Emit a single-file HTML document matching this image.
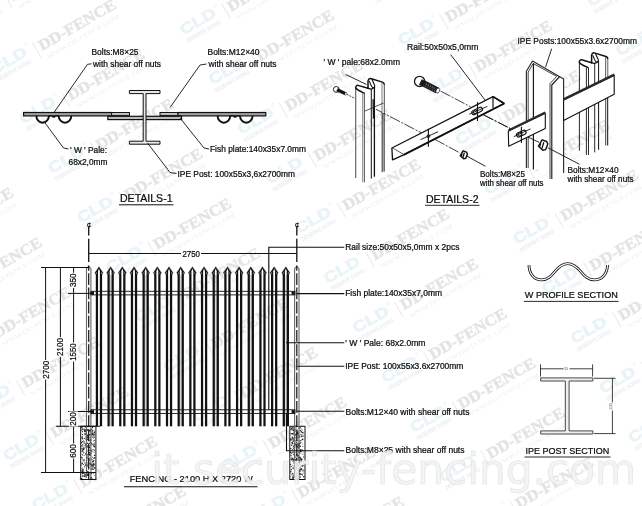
<!DOCTYPE html>
<html lang="en"><head><meta charset="utf-8"><title>Palisade fence drawing</title>
<style>
html,body{margin:0;padding:0;background:#fff;}
body{width:642px;height:506px;overflow:hidden;position:relative;font-family:"Liberation Sans",sans-serif;}
svg{position:absolute;left:0;top:0;display:block;opacity:.999;will-change:transform;}
.t{font-family:"Liberation Sans",sans-serif;fill:#0c0c0c;stroke:#0c0c0c;stroke-width:.22;}
.wm1{font-family:"Liberation Serif",serif;font-weight:bold;fill:#e3e3e3;stroke:#e6e6e6;stroke-width:.5;}
.wm2{font-family:"Liberation Serif",serif;fill:#eeeeee;}
.wm3{font-family:"Liberation Sans",sans-serif;font-weight:bold;fill:#ebebeb;}
.wm4{font-family:"Liberation Sans",sans-serif;font-weight:bold;fill:#e9f4f7;stroke:#e9f4f7;stroke-width:.6;}
.big{font-family:"DejaVu Sans","Liberation Sans",sans-serif;fill:#f3f3f3;fill-opacity:.9;stroke:#e0e0e0;stroke-width:.7;stroke-opacity:.8;}
</style></head><body>
<svg width="642" height="506" viewBox="0 0 642 506">
<rect x="0" y="0" width="642" height="506" fill="#fff"/>

<g id="watermarks">
<g transform="translate(-82.5 575.5) rotate(-30)"><text class="wm4" x="-49" y="0" font-size="15" textLength="39" lengthAdjust="spacingAndGlyphs">CLD</text><text class="wm3" x="-49" y="8.5" font-size="6" textLength="39" lengthAdjust="spacingAndGlyphs">DESERVE DOING</text><text class="wm2" x="-9" y="-8.5" font-size="5.5">®</text><line x1="0" y1="-8.5" x2="0" y2="8.5" stroke="#e9e9e9" stroke-width="1"/><text class="wm1" x="4" y="3.5" font-size="15.5" textLength="87" lengthAdjust="spacingAndGlyphs">DD-FENCE</text><text class="wm2" x="6" y="13.5" font-size="5.8" textLength="82" lengthAdjust="spacingAndGlyphs">WWW.DD-FENCE.COM</text></g>
<g transform="translate(-94.9 188.5) rotate(-30)"><text class="wm4" x="-49" y="0" font-size="15" textLength="39" lengthAdjust="spacingAndGlyphs">CLD</text><text class="wm3" x="-49" y="8.5" font-size="6" textLength="39" lengthAdjust="spacingAndGlyphs">DESERVE DOING</text><text class="wm2" x="-9" y="-8.5" font-size="5.5">®</text><line x1="0" y1="-8.5" x2="0" y2="8.5" stroke="#e9e9e9" stroke-width="1"/><text class="wm1" x="4" y="3.5" font-size="15.5" textLength="87" lengthAdjust="spacingAndGlyphs">DD-FENCE</text><text class="wm2" x="6" y="13.5" font-size="5.8" textLength="82" lengthAdjust="spacingAndGlyphs">WWW.DD-FENCE.COM</text></g>
<g transform="translate(-66.1 238.2) rotate(-30)"><text class="wm4" x="-49" y="0" font-size="15" textLength="39" lengthAdjust="spacingAndGlyphs">CLD</text><text class="wm3" x="-49" y="8.5" font-size="6" textLength="39" lengthAdjust="spacingAndGlyphs">DESERVE DOING</text><text class="wm2" x="-9" y="-8.5" font-size="5.5">®</text><line x1="0" y1="-8.5" x2="0" y2="8.5" stroke="#e9e9e9" stroke-width="1"/><text class="wm1" x="4" y="3.5" font-size="15.5" textLength="87" lengthAdjust="spacingAndGlyphs">DD-FENCE</text><text class="wm2" x="6" y="13.5" font-size="5.8" textLength="82" lengthAdjust="spacingAndGlyphs">WWW.DD-FENCE.COM</text></g>
<g transform="translate(-37.3 287.9) rotate(-30)"><text class="wm4" x="-49" y="0" font-size="15" textLength="39" lengthAdjust="spacingAndGlyphs">CLD</text><text class="wm3" x="-49" y="8.5" font-size="6" textLength="39" lengthAdjust="spacingAndGlyphs">DESERVE DOING</text><text class="wm2" x="-9" y="-8.5" font-size="5.5">®</text><line x1="0" y1="-8.5" x2="0" y2="8.5" stroke="#e9e9e9" stroke-width="1"/><text class="wm1" x="4" y="3.5" font-size="15.5" textLength="87" lengthAdjust="spacingAndGlyphs">DD-FENCE</text><text class="wm2" x="6" y="13.5" font-size="5.8" textLength="82" lengthAdjust="spacingAndGlyphs">WWW.DD-FENCE.COM</text></g>
<g transform="translate(-8.5 337.6) rotate(-30)"><text class="wm4" x="-49" y="0" font-size="15" textLength="39" lengthAdjust="spacingAndGlyphs">CLD</text><text class="wm3" x="-49" y="8.5" font-size="6" textLength="39" lengthAdjust="spacingAndGlyphs">DESERVE DOING</text><text class="wm2" x="-9" y="-8.5" font-size="5.5">®</text><line x1="0" y1="-8.5" x2="0" y2="8.5" stroke="#e9e9e9" stroke-width="1"/><text class="wm1" x="4" y="3.5" font-size="15.5" textLength="87" lengthAdjust="spacingAndGlyphs">DD-FENCE</text><text class="wm2" x="6" y="13.5" font-size="5.8" textLength="82" lengthAdjust="spacingAndGlyphs">WWW.DD-FENCE.COM</text></g>
<g transform="translate(20.3 387.3) rotate(-30)"><text class="wm4" x="-49" y="0" font-size="15" textLength="39" lengthAdjust="spacingAndGlyphs">CLD</text><text class="wm3" x="-49" y="8.5" font-size="6" textLength="39" lengthAdjust="spacingAndGlyphs">DESERVE DOING</text><text class="wm2" x="-9" y="-8.5" font-size="5.5">®</text><line x1="0" y1="-8.5" x2="0" y2="8.5" stroke="#e9e9e9" stroke-width="1"/><text class="wm1" x="4" y="3.5" font-size="15.5" textLength="87" lengthAdjust="spacingAndGlyphs">DD-FENCE</text><text class="wm2" x="6" y="13.5" font-size="5.8" textLength="82" lengthAdjust="spacingAndGlyphs">WWW.DD-FENCE.COM</text></g>
<g transform="translate(49.1 437.0) rotate(-30)"><text class="wm4" x="-49" y="0" font-size="15" textLength="39" lengthAdjust="spacingAndGlyphs">CLD</text><text class="wm3" x="-49" y="8.5" font-size="6" textLength="39" lengthAdjust="spacingAndGlyphs">DESERVE DOING</text><text class="wm2" x="-9" y="-8.5" font-size="5.5">®</text><line x1="0" y1="-8.5" x2="0" y2="8.5" stroke="#e9e9e9" stroke-width="1"/><text class="wm1" x="4" y="3.5" font-size="15.5" textLength="87" lengthAdjust="spacingAndGlyphs">DD-FENCE</text><text class="wm2" x="6" y="13.5" font-size="5.8" textLength="82" lengthAdjust="spacingAndGlyphs">WWW.DD-FENCE.COM</text></g>
<g transform="translate(77.9 486.7) rotate(-30)"><text class="wm4" x="-49" y="0" font-size="15" textLength="39" lengthAdjust="spacingAndGlyphs">CLD</text><text class="wm3" x="-49" y="8.5" font-size="6" textLength="39" lengthAdjust="spacingAndGlyphs">DESERVE DOING</text><text class="wm2" x="-9" y="-8.5" font-size="5.5">®</text><line x1="0" y1="-8.5" x2="0" y2="8.5" stroke="#e9e9e9" stroke-width="1"/><text class="wm1" x="4" y="3.5" font-size="15.5" textLength="87" lengthAdjust="spacingAndGlyphs">DD-FENCE</text><text class="wm2" x="6" y="13.5" font-size="5.8" textLength="82" lengthAdjust="spacingAndGlyphs">WWW.DD-FENCE.COM</text></g>
<g transform="translate(106.7 536.4) rotate(-30)"><text class="wm4" x="-49" y="0" font-size="15" textLength="39" lengthAdjust="spacingAndGlyphs">CLD</text><text class="wm3" x="-49" y="8.5" font-size="6" textLength="39" lengthAdjust="spacingAndGlyphs">DESERVE DOING</text><text class="wm2" x="-9" y="-8.5" font-size="5.5">®</text><line x1="0" y1="-8.5" x2="0" y2="8.5" stroke="#e9e9e9" stroke-width="1"/><text class="wm1" x="4" y="3.5" font-size="15.5" textLength="87" lengthAdjust="spacingAndGlyphs">DD-FENCE</text><text class="wm2" x="6" y="13.5" font-size="5.8" textLength="82" lengthAdjust="spacingAndGlyphs">WWW.DD-FENCE.COM</text></g>
<g transform="translate(-20.9 -49.4) rotate(-30)"><text class="wm4" x="-49" y="0" font-size="15" textLength="39" lengthAdjust="spacingAndGlyphs">CLD</text><text class="wm3" x="-49" y="8.5" font-size="6" textLength="39" lengthAdjust="spacingAndGlyphs">DESERVE DOING</text><text class="wm2" x="-9" y="-8.5" font-size="5.5">®</text><line x1="0" y1="-8.5" x2="0" y2="8.5" stroke="#e9e9e9" stroke-width="1"/><text class="wm1" x="4" y="3.5" font-size="15.5" textLength="87" lengthAdjust="spacingAndGlyphs">DD-FENCE</text><text class="wm2" x="6" y="13.5" font-size="5.8" textLength="82" lengthAdjust="spacingAndGlyphs">WWW.DD-FENCE.COM</text></g>
<g transform="translate(7.9 0.3) rotate(-30)"><text class="wm4" x="-49" y="0" font-size="15" textLength="39" lengthAdjust="spacingAndGlyphs">CLD</text><text class="wm3" x="-49" y="8.5" font-size="6" textLength="39" lengthAdjust="spacingAndGlyphs">DESERVE DOING</text><text class="wm2" x="-9" y="-8.5" font-size="5.5">®</text><line x1="0" y1="-8.5" x2="0" y2="8.5" stroke="#e9e9e9" stroke-width="1"/><text class="wm1" x="4" y="3.5" font-size="15.5" textLength="87" lengthAdjust="spacingAndGlyphs">DD-FENCE</text><text class="wm2" x="6" y="13.5" font-size="5.8" textLength="82" lengthAdjust="spacingAndGlyphs">WWW.DD-FENCE.COM</text></g>
<g transform="translate(36.7 50.0) rotate(-30)"><text class="wm4" x="-49" y="0" font-size="15" textLength="39" lengthAdjust="spacingAndGlyphs">CLD</text><text class="wm3" x="-49" y="8.5" font-size="6" textLength="39" lengthAdjust="spacingAndGlyphs">DESERVE DOING</text><text class="wm2" x="-9" y="-8.5" font-size="5.5">®</text><line x1="0" y1="-8.5" x2="0" y2="8.5" stroke="#e9e9e9" stroke-width="1"/><text class="wm1" x="4" y="3.5" font-size="15.5" textLength="87" lengthAdjust="spacingAndGlyphs">DD-FENCE</text><text class="wm2" x="6" y="13.5" font-size="5.8" textLength="82" lengthAdjust="spacingAndGlyphs">WWW.DD-FENCE.COM</text></g>
<g transform="translate(65.5 99.7) rotate(-30)"><text class="wm4" x="-49" y="0" font-size="15" textLength="39" lengthAdjust="spacingAndGlyphs">CLD</text><text class="wm3" x="-49" y="8.5" font-size="6" textLength="39" lengthAdjust="spacingAndGlyphs">DESERVE DOING</text><text class="wm2" x="-9" y="-8.5" font-size="5.5">®</text><line x1="0" y1="-8.5" x2="0" y2="8.5" stroke="#e9e9e9" stroke-width="1"/><text class="wm1" x="4" y="3.5" font-size="15.5" textLength="87" lengthAdjust="spacingAndGlyphs">DD-FENCE</text><text class="wm2" x="6" y="13.5" font-size="5.8" textLength="82" lengthAdjust="spacingAndGlyphs">WWW.DD-FENCE.COM</text></g>
<g transform="translate(94.3 149.4) rotate(-30)"><text class="wm4" x="-49" y="0" font-size="15" textLength="39" lengthAdjust="spacingAndGlyphs">CLD</text><text class="wm3" x="-49" y="8.5" font-size="6" textLength="39" lengthAdjust="spacingAndGlyphs">DESERVE DOING</text><text class="wm2" x="-9" y="-8.5" font-size="5.5">®</text><line x1="0" y1="-8.5" x2="0" y2="8.5" stroke="#e9e9e9" stroke-width="1"/><text class="wm1" x="4" y="3.5" font-size="15.5" textLength="87" lengthAdjust="spacingAndGlyphs">DD-FENCE</text><text class="wm2" x="6" y="13.5" font-size="5.8" textLength="82" lengthAdjust="spacingAndGlyphs">WWW.DD-FENCE.COM</text></g>
<g transform="translate(123.1 199.1) rotate(-30)"><text class="wm4" x="-49" y="0" font-size="15" textLength="39" lengthAdjust="spacingAndGlyphs">CLD</text><text class="wm3" x="-49" y="8.5" font-size="6" textLength="39" lengthAdjust="spacingAndGlyphs">DESERVE DOING</text><text class="wm2" x="-9" y="-8.5" font-size="5.5">®</text><line x1="0" y1="-8.5" x2="0" y2="8.5" stroke="#e9e9e9" stroke-width="1"/><text class="wm1" x="4" y="3.5" font-size="15.5" textLength="87" lengthAdjust="spacingAndGlyphs">DD-FENCE</text><text class="wm2" x="6" y="13.5" font-size="5.8" textLength="82" lengthAdjust="spacingAndGlyphs">WWW.DD-FENCE.COM</text></g>
<g transform="translate(151.9 248.8) rotate(-30)"><text class="wm4" x="-49" y="0" font-size="15" textLength="39" lengthAdjust="spacingAndGlyphs">CLD</text><text class="wm3" x="-49" y="8.5" font-size="6" textLength="39" lengthAdjust="spacingAndGlyphs">DESERVE DOING</text><text class="wm2" x="-9" y="-8.5" font-size="5.5">®</text><line x1="0" y1="-8.5" x2="0" y2="8.5" stroke="#e9e9e9" stroke-width="1"/><text class="wm1" x="4" y="3.5" font-size="15.5" textLength="87" lengthAdjust="spacingAndGlyphs">DD-FENCE</text><text class="wm2" x="6" y="13.5" font-size="5.8" textLength="82" lengthAdjust="spacingAndGlyphs">WWW.DD-FENCE.COM</text></g>
<g transform="translate(180.7 298.5) rotate(-30)"><text class="wm4" x="-49" y="0" font-size="15" textLength="39" lengthAdjust="spacingAndGlyphs">CLD</text><text class="wm3" x="-49" y="8.5" font-size="6" textLength="39" lengthAdjust="spacingAndGlyphs">DESERVE DOING</text><text class="wm2" x="-9" y="-8.5" font-size="5.5">®</text><line x1="0" y1="-8.5" x2="0" y2="8.5" stroke="#e9e9e9" stroke-width="1"/><text class="wm1" x="4" y="3.5" font-size="15.5" textLength="87" lengthAdjust="spacingAndGlyphs">DD-FENCE</text><text class="wm2" x="6" y="13.5" font-size="5.8" textLength="82" lengthAdjust="spacingAndGlyphs">WWW.DD-FENCE.COM</text></g>
<g transform="translate(209.5 348.2) rotate(-30)"><text class="wm4" x="-49" y="0" font-size="15" textLength="39" lengthAdjust="spacingAndGlyphs">CLD</text><text class="wm3" x="-49" y="8.5" font-size="6" textLength="39" lengthAdjust="spacingAndGlyphs">DESERVE DOING</text><text class="wm2" x="-9" y="-8.5" font-size="5.5">®</text><line x1="0" y1="-8.5" x2="0" y2="8.5" stroke="#e9e9e9" stroke-width="1"/><text class="wm1" x="4" y="3.5" font-size="15.5" textLength="87" lengthAdjust="spacingAndGlyphs">DD-FENCE</text><text class="wm2" x="6" y="13.5" font-size="5.8" textLength="82" lengthAdjust="spacingAndGlyphs">WWW.DD-FENCE.COM</text></g>
<g transform="translate(238.3 397.9) rotate(-30)"><text class="wm4" x="-49" y="0" font-size="15" textLength="39" lengthAdjust="spacingAndGlyphs">CLD</text><text class="wm3" x="-49" y="8.5" font-size="6" textLength="39" lengthAdjust="spacingAndGlyphs">DESERVE DOING</text><text class="wm2" x="-9" y="-8.5" font-size="5.5">®</text><line x1="0" y1="-8.5" x2="0" y2="8.5" stroke="#e9e9e9" stroke-width="1"/><text class="wm1" x="4" y="3.5" font-size="15.5" textLength="87" lengthAdjust="spacingAndGlyphs">DD-FENCE</text><text class="wm2" x="6" y="13.5" font-size="5.8" textLength="82" lengthAdjust="spacingAndGlyphs">WWW.DD-FENCE.COM</text></g>
<g transform="translate(267.1 447.6) rotate(-30)"><text class="wm4" x="-49" y="0" font-size="15" textLength="39" lengthAdjust="spacingAndGlyphs">CLD</text><text class="wm3" x="-49" y="8.5" font-size="6" textLength="39" lengthAdjust="spacingAndGlyphs">DESERVE DOING</text><text class="wm2" x="-9" y="-8.5" font-size="5.5">®</text><line x1="0" y1="-8.5" x2="0" y2="8.5" stroke="#e9e9e9" stroke-width="1"/><text class="wm1" x="4" y="3.5" font-size="15.5" textLength="87" lengthAdjust="spacingAndGlyphs">DD-FENCE</text><text class="wm2" x="6" y="13.5" font-size="5.8" textLength="82" lengthAdjust="spacingAndGlyphs">WWW.DD-FENCE.COM</text></g>
<g transform="translate(295.9 497.3) rotate(-30)"><text class="wm4" x="-49" y="0" font-size="15" textLength="39" lengthAdjust="spacingAndGlyphs">CLD</text><text class="wm3" x="-49" y="8.5" font-size="6" textLength="39" lengthAdjust="spacingAndGlyphs">DESERVE DOING</text><text class="wm2" x="-9" y="-8.5" font-size="5.5">®</text><line x1="0" y1="-8.5" x2="0" y2="8.5" stroke="#e9e9e9" stroke-width="1"/><text class="wm1" x="4" y="3.5" font-size="15.5" textLength="87" lengthAdjust="spacingAndGlyphs">DD-FENCE</text><text class="wm2" x="6" y="13.5" font-size="5.8" textLength="82" lengthAdjust="spacingAndGlyphs">WWW.DD-FENCE.COM</text></g>
<g transform="translate(324.7 547.0) rotate(-30)"><text class="wm4" x="-49" y="0" font-size="15" textLength="39" lengthAdjust="spacingAndGlyphs">CLD</text><text class="wm3" x="-49" y="8.5" font-size="6" textLength="39" lengthAdjust="spacingAndGlyphs">DESERVE DOING</text><text class="wm2" x="-9" y="-8.5" font-size="5.5">®</text><line x1="0" y1="-8.5" x2="0" y2="8.5" stroke="#e9e9e9" stroke-width="1"/><text class="wm1" x="4" y="3.5" font-size="15.5" textLength="87" lengthAdjust="spacingAndGlyphs">DD-FENCE</text><text class="wm2" x="6" y="13.5" font-size="5.8" textLength="82" lengthAdjust="spacingAndGlyphs">WWW.DD-FENCE.COM</text></g>
<g transform="translate(197.1 -38.8) rotate(-30)"><text class="wm4" x="-49" y="0" font-size="15" textLength="39" lengthAdjust="spacingAndGlyphs">CLD</text><text class="wm3" x="-49" y="8.5" font-size="6" textLength="39" lengthAdjust="spacingAndGlyphs">DESERVE DOING</text><text class="wm2" x="-9" y="-8.5" font-size="5.5">®</text><line x1="0" y1="-8.5" x2="0" y2="8.5" stroke="#e9e9e9" stroke-width="1"/><text class="wm1" x="4" y="3.5" font-size="15.5" textLength="87" lengthAdjust="spacingAndGlyphs">DD-FENCE</text><text class="wm2" x="6" y="13.5" font-size="5.8" textLength="82" lengthAdjust="spacingAndGlyphs">WWW.DD-FENCE.COM</text></g>
<g transform="translate(225.9 10.9) rotate(-30)"><text class="wm4" x="-49" y="0" font-size="15" textLength="39" lengthAdjust="spacingAndGlyphs">CLD</text><text class="wm3" x="-49" y="8.5" font-size="6" textLength="39" lengthAdjust="spacingAndGlyphs">DESERVE DOING</text><text class="wm2" x="-9" y="-8.5" font-size="5.5">®</text><line x1="0" y1="-8.5" x2="0" y2="8.5" stroke="#e9e9e9" stroke-width="1"/><text class="wm1" x="4" y="3.5" font-size="15.5" textLength="87" lengthAdjust="spacingAndGlyphs">DD-FENCE</text><text class="wm2" x="6" y="13.5" font-size="5.8" textLength="82" lengthAdjust="spacingAndGlyphs">WWW.DD-FENCE.COM</text></g>
<g transform="translate(254.7 60.6) rotate(-30)"><text class="wm4" x="-49" y="0" font-size="15" textLength="39" lengthAdjust="spacingAndGlyphs">CLD</text><text class="wm3" x="-49" y="8.5" font-size="6" textLength="39" lengthAdjust="spacingAndGlyphs">DESERVE DOING</text><text class="wm2" x="-9" y="-8.5" font-size="5.5">®</text><line x1="0" y1="-8.5" x2="0" y2="8.5" stroke="#e9e9e9" stroke-width="1"/><text class="wm1" x="4" y="3.5" font-size="15.5" textLength="87" lengthAdjust="spacingAndGlyphs">DD-FENCE</text><text class="wm2" x="6" y="13.5" font-size="5.8" textLength="82" lengthAdjust="spacingAndGlyphs">WWW.DD-FENCE.COM</text></g>
<g transform="translate(283.5 110.3) rotate(-30)"><text class="wm4" x="-49" y="0" font-size="15" textLength="39" lengthAdjust="spacingAndGlyphs">CLD</text><text class="wm3" x="-49" y="8.5" font-size="6" textLength="39" lengthAdjust="spacingAndGlyphs">DESERVE DOING</text><text class="wm2" x="-9" y="-8.5" font-size="5.5">®</text><line x1="0" y1="-8.5" x2="0" y2="8.5" stroke="#e9e9e9" stroke-width="1"/><text class="wm1" x="4" y="3.5" font-size="15.5" textLength="87" lengthAdjust="spacingAndGlyphs">DD-FENCE</text><text class="wm2" x="6" y="13.5" font-size="5.8" textLength="82" lengthAdjust="spacingAndGlyphs">WWW.DD-FENCE.COM</text></g>
<g transform="translate(312.3 160.0) rotate(-30)"><text class="wm4" x="-49" y="0" font-size="15" textLength="39" lengthAdjust="spacingAndGlyphs">CLD</text><text class="wm3" x="-49" y="8.5" font-size="6" textLength="39" lengthAdjust="spacingAndGlyphs">DESERVE DOING</text><text class="wm2" x="-9" y="-8.5" font-size="5.5">®</text><line x1="0" y1="-8.5" x2="0" y2="8.5" stroke="#e9e9e9" stroke-width="1"/><text class="wm1" x="4" y="3.5" font-size="15.5" textLength="87" lengthAdjust="spacingAndGlyphs">DD-FENCE</text><text class="wm2" x="6" y="13.5" font-size="5.8" textLength="82" lengthAdjust="spacingAndGlyphs">WWW.DD-FENCE.COM</text></g>
<g transform="translate(341.1 209.7) rotate(-30)"><text class="wm4" x="-49" y="0" font-size="15" textLength="39" lengthAdjust="spacingAndGlyphs">CLD</text><text class="wm3" x="-49" y="8.5" font-size="6" textLength="39" lengthAdjust="spacingAndGlyphs">DESERVE DOING</text><text class="wm2" x="-9" y="-8.5" font-size="5.5">®</text><line x1="0" y1="-8.5" x2="0" y2="8.5" stroke="#e9e9e9" stroke-width="1"/><text class="wm1" x="4" y="3.5" font-size="15.5" textLength="87" lengthAdjust="spacingAndGlyphs">DD-FENCE</text><text class="wm2" x="6" y="13.5" font-size="5.8" textLength="82" lengthAdjust="spacingAndGlyphs">WWW.DD-FENCE.COM</text></g>
<g transform="translate(369.9 259.4) rotate(-30)"><text class="wm4" x="-49" y="0" font-size="15" textLength="39" lengthAdjust="spacingAndGlyphs">CLD</text><text class="wm3" x="-49" y="8.5" font-size="6" textLength="39" lengthAdjust="spacingAndGlyphs">DESERVE DOING</text><text class="wm2" x="-9" y="-8.5" font-size="5.5">®</text><line x1="0" y1="-8.5" x2="0" y2="8.5" stroke="#e9e9e9" stroke-width="1"/><text class="wm1" x="4" y="3.5" font-size="15.5" textLength="87" lengthAdjust="spacingAndGlyphs">DD-FENCE</text><text class="wm2" x="6" y="13.5" font-size="5.8" textLength="82" lengthAdjust="spacingAndGlyphs">WWW.DD-FENCE.COM</text></g>
<g transform="translate(398.7 309.1) rotate(-30)"><text class="wm4" x="-49" y="0" font-size="15" textLength="39" lengthAdjust="spacingAndGlyphs">CLD</text><text class="wm3" x="-49" y="8.5" font-size="6" textLength="39" lengthAdjust="spacingAndGlyphs">DESERVE DOING</text><text class="wm2" x="-9" y="-8.5" font-size="5.5">®</text><line x1="0" y1="-8.5" x2="0" y2="8.5" stroke="#e9e9e9" stroke-width="1"/><text class="wm1" x="4" y="3.5" font-size="15.5" textLength="87" lengthAdjust="spacingAndGlyphs">DD-FENCE</text><text class="wm2" x="6" y="13.5" font-size="5.8" textLength="82" lengthAdjust="spacingAndGlyphs">WWW.DD-FENCE.COM</text></g>
<g transform="translate(427.5 358.8) rotate(-30)"><text class="wm4" x="-49" y="0" font-size="15" textLength="39" lengthAdjust="spacingAndGlyphs">CLD</text><text class="wm3" x="-49" y="8.5" font-size="6" textLength="39" lengthAdjust="spacingAndGlyphs">DESERVE DOING</text><text class="wm2" x="-9" y="-8.5" font-size="5.5">®</text><line x1="0" y1="-8.5" x2="0" y2="8.5" stroke="#e9e9e9" stroke-width="1"/><text class="wm1" x="4" y="3.5" font-size="15.5" textLength="87" lengthAdjust="spacingAndGlyphs">DD-FENCE</text><text class="wm2" x="6" y="13.5" font-size="5.8" textLength="82" lengthAdjust="spacingAndGlyphs">WWW.DD-FENCE.COM</text></g>
<g transform="translate(456.3 408.5) rotate(-30)"><text class="wm4" x="-49" y="0" font-size="15" textLength="39" lengthAdjust="spacingAndGlyphs">CLD</text><text class="wm3" x="-49" y="8.5" font-size="6" textLength="39" lengthAdjust="spacingAndGlyphs">DESERVE DOING</text><text class="wm2" x="-9" y="-8.5" font-size="5.5">®</text><line x1="0" y1="-8.5" x2="0" y2="8.5" stroke="#e9e9e9" stroke-width="1"/><text class="wm1" x="4" y="3.5" font-size="15.5" textLength="87" lengthAdjust="spacingAndGlyphs">DD-FENCE</text><text class="wm2" x="6" y="13.5" font-size="5.8" textLength="82" lengthAdjust="spacingAndGlyphs">WWW.DD-FENCE.COM</text></g>
<g transform="translate(485.1 458.2) rotate(-30)"><text class="wm4" x="-49" y="0" font-size="15" textLength="39" lengthAdjust="spacingAndGlyphs">CLD</text><text class="wm3" x="-49" y="8.5" font-size="6" textLength="39" lengthAdjust="spacingAndGlyphs">DESERVE DOING</text><text class="wm2" x="-9" y="-8.5" font-size="5.5">®</text><line x1="0" y1="-8.5" x2="0" y2="8.5" stroke="#e9e9e9" stroke-width="1"/><text class="wm1" x="4" y="3.5" font-size="15.5" textLength="87" lengthAdjust="spacingAndGlyphs">DD-FENCE</text><text class="wm2" x="6" y="13.5" font-size="5.8" textLength="82" lengthAdjust="spacingAndGlyphs">WWW.DD-FENCE.COM</text></g>
<g transform="translate(513.9 507.9) rotate(-30)"><text class="wm4" x="-49" y="0" font-size="15" textLength="39" lengthAdjust="spacingAndGlyphs">CLD</text><text class="wm3" x="-49" y="8.5" font-size="6" textLength="39" lengthAdjust="spacingAndGlyphs">DESERVE DOING</text><text class="wm2" x="-9" y="-8.5" font-size="5.5">®</text><line x1="0" y1="-8.5" x2="0" y2="8.5" stroke="#e9e9e9" stroke-width="1"/><text class="wm1" x="4" y="3.5" font-size="15.5" textLength="87" lengthAdjust="spacingAndGlyphs">DD-FENCE</text><text class="wm2" x="6" y="13.5" font-size="5.8" textLength="82" lengthAdjust="spacingAndGlyphs">WWW.DD-FENCE.COM</text></g>
<g transform="translate(542.7 557.6) rotate(-30)"><text class="wm4" x="-49" y="0" font-size="15" textLength="39" lengthAdjust="spacingAndGlyphs">CLD</text><text class="wm3" x="-49" y="8.5" font-size="6" textLength="39" lengthAdjust="spacingAndGlyphs">DESERVE DOING</text><text class="wm2" x="-9" y="-8.5" font-size="5.5">®</text><line x1="0" y1="-8.5" x2="0" y2="8.5" stroke="#e9e9e9" stroke-width="1"/><text class="wm1" x="4" y="3.5" font-size="15.5" textLength="87" lengthAdjust="spacingAndGlyphs">DD-FENCE</text><text class="wm2" x="6" y="13.5" font-size="5.8" textLength="82" lengthAdjust="spacingAndGlyphs">WWW.DD-FENCE.COM</text></g>
<g transform="translate(415.1 -28.2) rotate(-30)"><text class="wm4" x="-49" y="0" font-size="15" textLength="39" lengthAdjust="spacingAndGlyphs">CLD</text><text class="wm3" x="-49" y="8.5" font-size="6" textLength="39" lengthAdjust="spacingAndGlyphs">DESERVE DOING</text><text class="wm2" x="-9" y="-8.5" font-size="5.5">®</text><line x1="0" y1="-8.5" x2="0" y2="8.5" stroke="#e9e9e9" stroke-width="1"/><text class="wm1" x="4" y="3.5" font-size="15.5" textLength="87" lengthAdjust="spacingAndGlyphs">DD-FENCE</text><text class="wm2" x="6" y="13.5" font-size="5.8" textLength="82" lengthAdjust="spacingAndGlyphs">WWW.DD-FENCE.COM</text></g>
<g transform="translate(443.9 21.5) rotate(-30)"><text class="wm4" x="-49" y="0" font-size="15" textLength="39" lengthAdjust="spacingAndGlyphs">CLD</text><text class="wm3" x="-49" y="8.5" font-size="6" textLength="39" lengthAdjust="spacingAndGlyphs">DESERVE DOING</text><text class="wm2" x="-9" y="-8.5" font-size="5.5">®</text><line x1="0" y1="-8.5" x2="0" y2="8.5" stroke="#e9e9e9" stroke-width="1"/><text class="wm1" x="4" y="3.5" font-size="15.5" textLength="87" lengthAdjust="spacingAndGlyphs">DD-FENCE</text><text class="wm2" x="6" y="13.5" font-size="5.8" textLength="82" lengthAdjust="spacingAndGlyphs">WWW.DD-FENCE.COM</text></g>
<g transform="translate(472.7 71.2) rotate(-30)"><text class="wm4" x="-49" y="0" font-size="15" textLength="39" lengthAdjust="spacingAndGlyphs">CLD</text><text class="wm3" x="-49" y="8.5" font-size="6" textLength="39" lengthAdjust="spacingAndGlyphs">DESERVE DOING</text><text class="wm2" x="-9" y="-8.5" font-size="5.5">®</text><line x1="0" y1="-8.5" x2="0" y2="8.5" stroke="#e9e9e9" stroke-width="1"/><text class="wm1" x="4" y="3.5" font-size="15.5" textLength="87" lengthAdjust="spacingAndGlyphs">DD-FENCE</text><text class="wm2" x="6" y="13.5" font-size="5.8" textLength="82" lengthAdjust="spacingAndGlyphs">WWW.DD-FENCE.COM</text></g>
<g transform="translate(501.5 120.9) rotate(-30)"><text class="wm4" x="-49" y="0" font-size="15" textLength="39" lengthAdjust="spacingAndGlyphs">CLD</text><text class="wm3" x="-49" y="8.5" font-size="6" textLength="39" lengthAdjust="spacingAndGlyphs">DESERVE DOING</text><text class="wm2" x="-9" y="-8.5" font-size="5.5">®</text><line x1="0" y1="-8.5" x2="0" y2="8.5" stroke="#e9e9e9" stroke-width="1"/><text class="wm1" x="4" y="3.5" font-size="15.5" textLength="87" lengthAdjust="spacingAndGlyphs">DD-FENCE</text><text class="wm2" x="6" y="13.5" font-size="5.8" textLength="82" lengthAdjust="spacingAndGlyphs">WWW.DD-FENCE.COM</text></g>
<g transform="translate(530.3 170.6) rotate(-30)"><text class="wm4" x="-49" y="0" font-size="15" textLength="39" lengthAdjust="spacingAndGlyphs">CLD</text><text class="wm3" x="-49" y="8.5" font-size="6" textLength="39" lengthAdjust="spacingAndGlyphs">DESERVE DOING</text><text class="wm2" x="-9" y="-8.5" font-size="5.5">®</text><line x1="0" y1="-8.5" x2="0" y2="8.5" stroke="#e9e9e9" stroke-width="1"/><text class="wm1" x="4" y="3.5" font-size="15.5" textLength="87" lengthAdjust="spacingAndGlyphs">DD-FENCE</text><text class="wm2" x="6" y="13.5" font-size="5.8" textLength="82" lengthAdjust="spacingAndGlyphs">WWW.DD-FENCE.COM</text></g>
<g transform="translate(559.1 220.3) rotate(-30)"><text class="wm4" x="-49" y="0" font-size="15" textLength="39" lengthAdjust="spacingAndGlyphs">CLD</text><text class="wm3" x="-49" y="8.5" font-size="6" textLength="39" lengthAdjust="spacingAndGlyphs">DESERVE DOING</text><text class="wm2" x="-9" y="-8.5" font-size="5.5">®</text><line x1="0" y1="-8.5" x2="0" y2="8.5" stroke="#e9e9e9" stroke-width="1"/><text class="wm1" x="4" y="3.5" font-size="15.5" textLength="87" lengthAdjust="spacingAndGlyphs">DD-FENCE</text><text class="wm2" x="6" y="13.5" font-size="5.8" textLength="82" lengthAdjust="spacingAndGlyphs">WWW.DD-FENCE.COM</text></g>
<g transform="translate(587.9 270.0) rotate(-30)"><text class="wm4" x="-49" y="0" font-size="15" textLength="39" lengthAdjust="spacingAndGlyphs">CLD</text><text class="wm3" x="-49" y="8.5" font-size="6" textLength="39" lengthAdjust="spacingAndGlyphs">DESERVE DOING</text><text class="wm2" x="-9" y="-8.5" font-size="5.5">®</text><line x1="0" y1="-8.5" x2="0" y2="8.5" stroke="#e9e9e9" stroke-width="1"/><text class="wm1" x="4" y="3.5" font-size="15.5" textLength="87" lengthAdjust="spacingAndGlyphs">DD-FENCE</text><text class="wm2" x="6" y="13.5" font-size="5.8" textLength="82" lengthAdjust="spacingAndGlyphs">WWW.DD-FENCE.COM</text></g>
<g transform="translate(616.7 319.7) rotate(-30)"><text class="wm4" x="-49" y="0" font-size="15" textLength="39" lengthAdjust="spacingAndGlyphs">CLD</text><text class="wm3" x="-49" y="8.5" font-size="6" textLength="39" lengthAdjust="spacingAndGlyphs">DESERVE DOING</text><text class="wm2" x="-9" y="-8.5" font-size="5.5">®</text><line x1="0" y1="-8.5" x2="0" y2="8.5" stroke="#e9e9e9" stroke-width="1"/><text class="wm1" x="4" y="3.5" font-size="15.5" textLength="87" lengthAdjust="spacingAndGlyphs">DD-FENCE</text><text class="wm2" x="6" y="13.5" font-size="5.8" textLength="82" lengthAdjust="spacingAndGlyphs">WWW.DD-FENCE.COM</text></g>
<g transform="translate(645.5 369.4) rotate(-30)"><text class="wm4" x="-49" y="0" font-size="15" textLength="39" lengthAdjust="spacingAndGlyphs">CLD</text><text class="wm3" x="-49" y="8.5" font-size="6" textLength="39" lengthAdjust="spacingAndGlyphs">DESERVE DOING</text><text class="wm2" x="-9" y="-8.5" font-size="5.5">®</text><line x1="0" y1="-8.5" x2="0" y2="8.5" stroke="#e9e9e9" stroke-width="1"/><text class="wm1" x="4" y="3.5" font-size="15.5" textLength="87" lengthAdjust="spacingAndGlyphs">DD-FENCE</text><text class="wm2" x="6" y="13.5" font-size="5.8" textLength="82" lengthAdjust="spacingAndGlyphs">WWW.DD-FENCE.COM</text></g>
<g transform="translate(674.3 419.1) rotate(-30)"><text class="wm4" x="-49" y="0" font-size="15" textLength="39" lengthAdjust="spacingAndGlyphs">CLD</text><text class="wm3" x="-49" y="8.5" font-size="6" textLength="39" lengthAdjust="spacingAndGlyphs">DESERVE DOING</text><text class="wm2" x="-9" y="-8.5" font-size="5.5">®</text><line x1="0" y1="-8.5" x2="0" y2="8.5" stroke="#e9e9e9" stroke-width="1"/><text class="wm1" x="4" y="3.5" font-size="15.5" textLength="87" lengthAdjust="spacingAndGlyphs">DD-FENCE</text><text class="wm2" x="6" y="13.5" font-size="5.8" textLength="82" lengthAdjust="spacingAndGlyphs">WWW.DD-FENCE.COM</text></g>
<g transform="translate(703.1 468.8) rotate(-30)"><text class="wm4" x="-49" y="0" font-size="15" textLength="39" lengthAdjust="spacingAndGlyphs">CLD</text><text class="wm3" x="-49" y="8.5" font-size="6" textLength="39" lengthAdjust="spacingAndGlyphs">DESERVE DOING</text><text class="wm2" x="-9" y="-8.5" font-size="5.5">®</text><line x1="0" y1="-8.5" x2="0" y2="8.5" stroke="#e9e9e9" stroke-width="1"/><text class="wm1" x="4" y="3.5" font-size="15.5" textLength="87" lengthAdjust="spacingAndGlyphs">DD-FENCE</text><text class="wm2" x="6" y="13.5" font-size="5.8" textLength="82" lengthAdjust="spacingAndGlyphs">WWW.DD-FENCE.COM</text></g>
<g transform="translate(604.3 -67.3) rotate(-30)"><text class="wm4" x="-49" y="0" font-size="15" textLength="39" lengthAdjust="spacingAndGlyphs">CLD</text><text class="wm3" x="-49" y="8.5" font-size="6" textLength="39" lengthAdjust="spacingAndGlyphs">DESERVE DOING</text><text class="wm2" x="-9" y="-8.5" font-size="5.5">®</text><line x1="0" y1="-8.5" x2="0" y2="8.5" stroke="#e9e9e9" stroke-width="1"/><text class="wm1" x="4" y="3.5" font-size="15.5" textLength="87" lengthAdjust="spacingAndGlyphs">DD-FENCE</text><text class="wm2" x="6" y="13.5" font-size="5.8" textLength="82" lengthAdjust="spacingAndGlyphs">WWW.DD-FENCE.COM</text></g>
<g transform="translate(633.1 -17.6) rotate(-30)"><text class="wm4" x="-49" y="0" font-size="15" textLength="39" lengthAdjust="spacingAndGlyphs">CLD</text><text class="wm3" x="-49" y="8.5" font-size="6" textLength="39" lengthAdjust="spacingAndGlyphs">DESERVE DOING</text><text class="wm2" x="-9" y="-8.5" font-size="5.5">®</text><line x1="0" y1="-8.5" x2="0" y2="8.5" stroke="#e9e9e9" stroke-width="1"/><text class="wm1" x="4" y="3.5" font-size="15.5" textLength="87" lengthAdjust="spacingAndGlyphs">DD-FENCE</text><text class="wm2" x="6" y="13.5" font-size="5.8" textLength="82" lengthAdjust="spacingAndGlyphs">WWW.DD-FENCE.COM</text></g>
<g transform="translate(661.9 32.1) rotate(-30)"><text class="wm4" x="-49" y="0" font-size="15" textLength="39" lengthAdjust="spacingAndGlyphs">CLD</text><text class="wm3" x="-49" y="8.5" font-size="6" textLength="39" lengthAdjust="spacingAndGlyphs">DESERVE DOING</text><text class="wm2" x="-9" y="-8.5" font-size="5.5">®</text><line x1="0" y1="-8.5" x2="0" y2="8.5" stroke="#e9e9e9" stroke-width="1"/><text class="wm1" x="4" y="3.5" font-size="15.5" textLength="87" lengthAdjust="spacingAndGlyphs">DD-FENCE</text><text class="wm2" x="6" y="13.5" font-size="5.8" textLength="82" lengthAdjust="spacingAndGlyphs">WWW.DD-FENCE.COM</text></g>
<g transform="translate(690.7 81.8) rotate(-30)"><text class="wm4" x="-49" y="0" font-size="15" textLength="39" lengthAdjust="spacingAndGlyphs">CLD</text><text class="wm3" x="-49" y="8.5" font-size="6" textLength="39" lengthAdjust="spacingAndGlyphs">DESERVE DOING</text><text class="wm2" x="-9" y="-8.5" font-size="5.5">®</text><line x1="0" y1="-8.5" x2="0" y2="8.5" stroke="#e9e9e9" stroke-width="1"/><text class="wm1" x="4" y="3.5" font-size="15.5" textLength="87" lengthAdjust="spacingAndGlyphs">DD-FENCE</text><text class="wm2" x="6" y="13.5" font-size="5.8" textLength="82" lengthAdjust="spacingAndGlyphs">WWW.DD-FENCE.COM</text></g>
<g transform="translate(719.5 131.5) rotate(-30)"><text class="wm4" x="-49" y="0" font-size="15" textLength="39" lengthAdjust="spacingAndGlyphs">CLD</text><text class="wm3" x="-49" y="8.5" font-size="6" textLength="39" lengthAdjust="spacingAndGlyphs">DESERVE DOING</text><text class="wm2" x="-9" y="-8.5" font-size="5.5">®</text><line x1="0" y1="-8.5" x2="0" y2="8.5" stroke="#e9e9e9" stroke-width="1"/><text class="wm1" x="4" y="3.5" font-size="15.5" textLength="87" lengthAdjust="spacingAndGlyphs">DD-FENCE</text><text class="wm2" x="6" y="13.5" font-size="5.8" textLength="82" lengthAdjust="spacingAndGlyphs">WWW.DD-FENCE.COM</text></g>
</g>
<g id="details1">
<rect x="23.6" y="112.5" width="88" height="3.4" fill="#a0a0a0" stroke="#111" stroke-width="1.2" />
<rect x="177.8" y="112.5" width="88" height="3.4" fill="#a0a0a0" stroke="#111" stroke-width="1.2" />
<rect x="111.6" y="112.5" width="17.9" height="2.9" fill="#c8c8c8" stroke="#111" stroke-width="1.0" />
<rect x="160" y="112.5" width="17.8" height="2.9" fill="#c8c8c8" stroke="#111" stroke-width="1.0" />
<rect x="107.8" y="116.3" width="73.8" height="3.3" fill="#bcbcbc" stroke="#111" stroke-width="1.2" />
<path d="M129.4 90.5h30.6v3.1h-14v47.6h14v3h-30.6v-3h13.8v-47.6h-13.8z" fill="#e8e8e8" stroke="#111" stroke-width="1.0" />
<path d="M36.3 115.8 a6.3 6.9 0 0 0 12.6 0 M58.7 115.8 a6.3 6.9 0 0 0 12.6 0" fill="none" stroke="#111" stroke-width="1.9" />
<path d="M48.9 116.2 q2 -1.2 3.8 0 M54.9 116.2 q2 -1.2 3.8 0" fill="none" stroke="#111" stroke-width="1.2" />
<rect x="52.4" y="115.8" width="2.7" height="1.9" fill="#111" stroke="#111" stroke-width="0" />
<path d="M217.6 115.8 a6.3 6.9 0 0 0 12.6 0 M240.0 115.8 a6.3 6.9 0 0 0 12.6 0" fill="none" stroke="#111" stroke-width="1.9" />
<path d="M230.2 116.2 q2 -1.2 3.8 0 M236.2 116.2 q2 -1.2 3.8 0" fill="none" stroke="#111" stroke-width="1.2" />
<rect x="233.7" y="115.8" width="2.7" height="1.9" fill="#111" stroke="#111" stroke-width="0" />
<polyline points="91.5,63.8 87.5,64.3 54,112.5" fill="none" stroke="#111" stroke-width="0.9" />
<polyline points="206.5,64 200,65 170,107.5" fill="none" stroke="#111" stroke-width="0.9" />
<polyline points="68.5,149 63.5,148 44,121.5" fill="none" stroke="#111" stroke-width="0.9" />
<polyline points="209,149 204,148 180,118" fill="none" stroke="#111" stroke-width="0.9" />
<polyline points="176.5,173.5 170,172.5 147.5,143" fill="none" stroke="#111" stroke-width="0.9" />
<text class="t" x="91.5" y="54.6" font-size="8.2" textLength="47" lengthAdjust="spacingAndGlyphs" >Bolts:M8×25</text>
<text class="t" x="93" y="67.1" font-size="8.2" textLength="68" lengthAdjust="spacingAndGlyphs" >with shear off nuts</text>
<text class="t" x="207.5" y="54.6" font-size="8.2" textLength="52" lengthAdjust="spacingAndGlyphs" >Bolts:M12×40</text>
<text class="t" x="208.5" y="67.1" font-size="8.2" textLength="68" lengthAdjust="spacingAndGlyphs" >with shear off nuts</text>
<text class="t" x="70" y="152.6" font-size="8.2" textLength="37" lengthAdjust="spacingAndGlyphs" >' W ' Pale:</text>
<text class="t" x="68.5" y="165.1" font-size="8.2" textLength="39" lengthAdjust="spacingAndGlyphs" >68x2,0mm</text>
<text class="t" x="210" y="151.6" font-size="8.2" textLength="96" lengthAdjust="spacingAndGlyphs" >Fish plate:140x35x7.0mm</text>
<text class="t" x="177.5" y="176.6" font-size="8.2" textLength="117.5" lengthAdjust="spacingAndGlyphs" >IPE Post: 100x55x3,6x2700mm</text>
<text class="t" x="120" y="202.1" font-size="10.3" textLength="52.5" lengthAdjust="spacingAndGlyphs" >DETAILS-1</text>
<line x1="119" y1="204.8" x2="173.5" y2="204.8" stroke="#111" stroke-width="1.0" />
</g>
<g id="details2">
<text class="t" x="407" y="50" font-size="8.2" textLength="71.5" lengthAdjust="spacingAndGlyphs" >Rail:50x50x5,0mm</text>
<text class="t" x="517.5" y="44" font-size="8.2" textLength="119.5" lengthAdjust="spacingAndGlyphs" >IPE Posts:100x55x3.6x2700mm</text>
<text class="t" x="323.5" y="65" font-size="8.2" textLength="76.5" lengthAdjust="spacingAndGlyphs" >' W ' pale:68x2.0mm</text>
<text class="t" x="480" y="176.5" font-size="8.2" textLength="45" lengthAdjust="spacingAndGlyphs" >Bolts:M8×25</text>
<text class="t" x="480" y="186" font-size="8.2" textLength="63.5" lengthAdjust="spacingAndGlyphs" >with shear off nuts</text>
<text class="t" x="567.5" y="172.5" font-size="8.2" textLength="51" lengthAdjust="spacingAndGlyphs" >Bolts:M12×40</text>
<text class="t" x="567.5" y="182.3" font-size="8.2" textLength="66" lengthAdjust="spacingAndGlyphs" >with shear off nuts</text>
<text class="t" x="426" y="202.5" font-size="10.3" textLength="52.5" lengthAdjust="spacingAndGlyphs" >DETAILS-2</text>
<line x1="425" y1="205.3" x2="479.5" y2="205.3" stroke="#111" stroke-width="0.9" />
<line x1="346.8" y1="94.3" x2="355.5" y2="98.7" stroke="#111" stroke-width="0.8" stroke-dasharray="2 1"/>
<line x1="376" y1="109.3" x2="421" y2="132.6" stroke="#111" stroke-width="0.8" stroke-dasharray="11 1.5 2 1.5"/>
<line x1="434.8" y1="139.3" x2="460" y2="153" stroke="#111" stroke-width="0.8" stroke-dasharray="11 1.5 2 1.5"/>
<line x1="440.6" y1="91.1" x2="470.6" y2="106.8" stroke="#111" stroke-width="0.8" stroke-dasharray="11 1.5 2 1.5"/>
<line x1="483.6" y1="114.9" x2="512" y2="129.4" stroke="#111" stroke-width="0.8" stroke-dasharray="11 1.5 2 1.5"/>
<g transform="translate(-223.6 25.6)"><line x1="579.3" y1="61.7" x2="579.3" y2="152.4" stroke="#666" stroke-width="1.2"/><line x1="586.4" y1="67.6" x2="586.4" y2="156.70000000000002" stroke="#666" stroke-width="0.9"/><line x1="588.1" y1="67.6" x2="588.1" y2="156.70000000000002" stroke="#555" stroke-width="0.9"/><line x1="594.9" y1="63.5" x2="594.9" y2="153.0" stroke="#111" stroke-width="1.0"/><line x1="598.0" y1="61.4" x2="598.0" y2="151.1" stroke="#111" stroke-width="1.3"/><line x1="605.8" y1="57.2" x2="605.8" y2="146.6" stroke="#111" stroke-width="0.9"/><line x1="607.7" y1="58.2" x2="607.7" y2="146.0" stroke="#111" stroke-width="1.0"/><rect x="605.9" y="57.4" width="1.6" height="30" fill="#e2e2e2"/><path d="M579.3 62V61.7C579.6 60.3 580.4 59.6 581.6 59.8L591.6 62.7" fill="none" stroke="#111" stroke-width="1.5" stroke-linejoin="round" stroke-linecap="round"/><path d="M579.5 62.7C581 64.6 584.5 66 587.8 67.5" fill="none" stroke="#111" stroke-width="1.4" stroke-linejoin="round" stroke-linecap="round"/><path d="M591.6 62.7V55.2C592 53.5 592.9 52.7 594.2 52.9L606 56.5C607 56.9 607.6 57.4 607.7 58.4" fill="none" stroke="#111" stroke-width="1.5" stroke-linejoin="round" stroke-linecap="round"/><path d="M593 55.6C594 58.6 595 61.2 596.4 62C597.7 62.5 598.8 61 598.2 59.6L595.6 54" fill="none" stroke="#111" stroke-width="1.1" stroke-linejoin="round" stroke-linecap="round"/><path d="M591.6 62.7L594.9 63.6L598.2 61.6" fill="none" stroke="#111" stroke-width="1.2" stroke-linejoin="round" stroke-linecap="round"/></g>
<line x1="373.1" y1="99.3" x2="373.5" y2="118.6" stroke="#111" stroke-width="1.3" />
<line x1="364.9" y1="111.1" x2="383.6" y2="103" stroke="#111" stroke-width="0.7" />
<line x1="337.2" y1="89.8" x2="345.6" y2="93.7" stroke="#161616" stroke-width="3.3" />
<circle cx="336.3" cy="89.4" r="2.9" fill="#fff" stroke="#222" stroke-width="1"/>
<line x1="337" y1="89.7" x2="339.5" y2="90.9" stroke="#161616" stroke-width="3.3" />
<ellipse cx="345.8" cy="93.8" rx=".9" ry="1.5" fill="#fff" stroke="#222" stroke-width=".5" transform="rotate(25 345.8 93.8)"/>
<line x1="422" y1="82.6" x2="437.3" y2="90.3" stroke="#1c1c1c" stroke-width="6.4" />
<line x1="424" y1="83.0" x2="436" y2="89.0" stroke="#bbb" stroke-width="1.2" stroke-dasharray=".8 1.4"/>
<line x1="423" y1="85.0" x2="435" y2="91.0" stroke="#999" stroke-width="1.0" stroke-dasharray=".8 1.7"/>
<circle cx="419.6" cy="81.4" r="5.1" fill="#fff" stroke="#1a1a1a" stroke-width="1.3"/>
<line x1="420.4" y1="81.9" x2="424" y2="83.7" stroke="#1c1c1c" stroke-width="6.2" />
<ellipse cx="437.8" cy="90.6" rx="1.7" ry="2.7" fill="#fff" stroke="#222" stroke-width=".7" transform="rotate(25 437.8 90.6)"/>
<path d="M391.9 148L493 96.6L504.2 103.5L403.7 154.8Z" fill="#fff" stroke="#111" stroke-width="1.2" stroke-linejoin="round" />
<line x1="403.7" y1="154.8" x2="504.2" y2="103.5" stroke="#111" stroke-width="1.9" />
<line x1="493" y1="96.6" x2="504.2" y2="103.5" stroke="#111" stroke-width="1.7" />
<path d="M391.9 148L392.5 159.8L403.7 154.8" fill="#fff" stroke="#111" stroke-width="1.3" stroke-linejoin="round" />
<line x1="493" y1="96.8" x2="493" y2="108" stroke="#111" stroke-width="1.2" />
<circle cx="428.4" cy="136.2" r="1.4" fill="#fff" stroke="#111" stroke-width="1"/>
<line x1="428.4" y1="128.7" x2="428.4" y2="146.7" stroke="#111" stroke-width="1.1" />
<line x1="420.5" y1="139.6" x2="438" y2="131.8" stroke="#111" stroke-width="0.9" />
<rect x="471.4" y="108.8" width="11.4" height="4.2" rx="2.1" fill="#fff" stroke="#111" stroke-width="1.1" transform="rotate(-26.5 477.1 110.9)"/>
<ellipse cx="475.3" cy="111.8" rx="2.2" ry="1.6" fill="none" stroke="#111" stroke-width=".9" transform="rotate(-26.5 475.3 111.8)"/>
<line x1="477.5" y1="102.1" x2="477.5" y2="121.1" stroke="#111" stroke-width="1.1" />
<line x1="469.3" y1="114.2" x2="487.4" y2="106.4" stroke="#111" stroke-width="0.9" />
<g transform="translate(463.9 154.8) scale(.76)"><path d="M-4.7 1.2L-1.1 -5.2L3.4 -3.5L4.6 -1.1L2.5 4.6L-0.4 5.3Z" fill="#fff" stroke="#111" stroke-width="1.9" stroke-linejoin="round"/><path d="M0.6 -2.8L-1.3 3.6M-2.6 -1.6L-3.4 1.6" fill="none" stroke="#111" stroke-width="1.8"/></g>
<line x1="467" y1="156.2" x2="485.5" y2="166.3" stroke="#111" stroke-width="0.9" />
<line x1="450.6" y1="54.5" x2="485" y2="100" stroke="#111" stroke-width="0.9" />
<line x1="345.6" y1="74.4" x2="366.5" y2="84.5" stroke="#111" stroke-width="0.9" />
<line x1="551.7" y1="48.7" x2="545.5" y2="67.2" stroke="#111" stroke-width="0.9" />
<path d="M526.4 168V71.2L532.5 61L563.6 78.9V173" fill="#fff" stroke="#2a2a2a" stroke-width="1.15" stroke-linejoin="round" />
<path d="M528.2 168V72L533.2 63.5L556.7 76.4L550 83.7V179" fill="none" stroke="#444" stroke-width="1.0" stroke-linejoin="round" />
<line x1="533.4" y1="63.5" x2="533.4" y2="169.6" stroke="#111" stroke-width="1.15" />
<path d="M559.6 76.7L551.8 85V179" fill="none" stroke="#111" stroke-width="1.1" stroke-linejoin="round" />
<g transform="translate(0 0)"><line x1="579.4" y1="61.7" x2="579.4" y2="150.7" stroke="#111" stroke-width="0.9"/><line x1="586.4" y1="67.6" x2="586.4" y2="155" stroke="#111" stroke-width="0.9"/><line x1="588.5" y1="67.6" x2="588.5" y2="155" stroke="#111" stroke-width="0.9"/><line x1="594.7" y1="63.5" x2="594.7" y2="152.4" stroke="#111" stroke-width="0.9"/><line x1="598.6" y1="61.4" x2="598.6" y2="149.8" stroke="#111" stroke-width="1.0"/><line x1="605.7" y1="57.2" x2="605.7" y2="145.5" stroke="#444" stroke-width="1.0"/><line x1="607.7" y1="58.2" x2="607.7" y2="145.5" stroke="#111" stroke-width="1.0"/><rect x="605.9" y="57.4" width="1.6" height="30" fill="#e2e2e2"/><path d="M579.3 62V61.7C579.6 60.3 580.4 59.6 581.6 59.8L591.6 62.7" fill="none" stroke="#111" stroke-width="1.5" stroke-linejoin="round" stroke-linecap="round"/><path d="M579.5 62.7C581 64.6 584.5 66 587.8 67.5" fill="none" stroke="#111" stroke-width="1.4" stroke-linejoin="round" stroke-linecap="round"/><path d="M591.6 62.7V55.2C592 53.5 592.9 52.7 594.2 52.9L606 56.5C607 56.9 607.6 57.4 607.7 58.4" fill="none" stroke="#111" stroke-width="1.5" stroke-linejoin="round" stroke-linecap="round"/><path d="M593 55.6C594 58.6 595 61.2 596.4 62C597.7 62.5 598.8 61 598.2 59.6L595.6 54" fill="none" stroke="#111" stroke-width="1.1" stroke-linejoin="round" stroke-linecap="round"/><path d="M591.6 62.7L594.9 63.6L598.2 61.6" fill="none" stroke="#111" stroke-width="1.2" stroke-linejoin="round" stroke-linecap="round"/></g>
<path d="M563.6 99.9L614.2 75.2V94.2L563.6 120.4Z" fill="#fff" stroke="#111" stroke-width="1.1" stroke-linejoin="round" />
<line x1="563.6" y1="99.4" x2="614.4" y2="74.6" stroke="#2a2a2a" stroke-width="2.3" />
<line x1="527.4" y1="136.7" x2="539" y2="142.3" stroke="#111" stroke-width="0.9" />
<line x1="483.6" y1="114.9" x2="512" y2="129.4" stroke="#111" stroke-width="0.8" stroke-dasharray="11 1.5 2 1.5"/>
<path d="M508.3 131.1L545.3 113.2V128.6L508.7 146.2Z" fill="#fff" stroke="#111" stroke-width="1.1" stroke-linejoin="round" />
<line x1="508.5" y1="130.4" x2="545.3" y2="112.6" stroke="#2a2a2a" stroke-width="2.2" />
<rect x="516.2" y="131.5" width="10.2" height="4.2" rx="2.1" fill="#fff" stroke="#111" stroke-width="1.1" transform="rotate(-26 521.3 133.6)"/>
<ellipse cx="520" cy="134.3" rx="2.2" ry="1.5" fill="none" stroke="#111" stroke-width=".9" transform="rotate(-26 520 134.3)"/>
<line x1="521.4" y1="126.8" x2="521.4" y2="143" stroke="#111" stroke-width="1.1" />
<line x1="513.7" y1="136.7" x2="530.5" y2="128.9" stroke="#111" stroke-width="0.9" />
<g transform="translate(543.2 145)"><path d="M-4.7 1.2L-1.1 -5.2L3.4 -3.5L4.6 -1.1L2.5 4.6L-0.4 5.3Z" fill="#fff" stroke="#111" stroke-width="1.4" stroke-linejoin="round"/><path d="M0.6 -2.8L-1.3 3.6M-2.6 -1.6L-3.4 1.6" fill="none" stroke="#111" stroke-width="1.3"/></g>
<line x1="547.8" y1="147.7" x2="579.5" y2="164.3" stroke="#111" stroke-width="0.9" />
</g>
<g id="fence">
<rect x="80.7" y="426.3" width="15.2" height="53.2" fill="#fff" stroke="#111" stroke-width="1.0" />
<circle cx="85.8" cy="434.8" r="0.4" fill="#222"/>
<circle cx="82.5" cy="454.8" r="0.6" fill="#222"/>
<circle cx="89.2" cy="474.1" r="0.5" fill="#222"/>
<circle cx="82.0" cy="449.5" r="0.4" fill="#222"/>
<circle cx="84.7" cy="455.5" r="0.4" fill="#222"/>
<circle cx="92.4" cy="433.4" r="0.5" fill="#222"/>
<circle cx="89.8" cy="457.2" r="0.4" fill="#222"/>
<circle cx="89.1" cy="447.5" r="0.5" fill="#222"/>
<circle cx="82.1" cy="471.5" r="0.6" fill="#222"/>
<circle cx="87.0" cy="455.0" r="0.6" fill="#222"/>
<circle cx="88.9" cy="462.3" r="0.4" fill="#222"/>
<circle cx="89.2" cy="460.1" r="0.6" fill="#222"/>
<circle cx="82.8" cy="463.9" r="0.4" fill="#222"/>
<circle cx="89.7" cy="452.7" r="0.8" fill="#222"/>
<circle cx="91.8" cy="451.1" r="0.8" fill="#222"/>
<circle cx="86.3" cy="439.9" r="0.5" fill="#222"/>
<circle cx="90.7" cy="439.6" r="0.6" fill="#222"/>
<circle cx="88.4" cy="472.3" r="0.8" fill="#222"/>
<circle cx="85.3" cy="477.8" r="0.4" fill="#222"/>
<circle cx="88.3" cy="435.5" r="0.6" fill="#222"/>
<circle cx="83.5" cy="452.3" r="0.4" fill="#222"/>
<circle cx="94.2" cy="431.0" r="0.6" fill="#222"/>
<circle cx="86.0" cy="445.1" r="0.8" fill="#222"/>
<circle cx="89.2" cy="450.6" r="0.4" fill="#222"/>
<circle cx="94.0" cy="451.6" r="0.4" fill="#222"/>
<circle cx="82.3" cy="463.3" r="0.8" fill="#222"/>
<circle cx="85.3" cy="447.0" r="0.6" fill="#222"/>
<circle cx="81.8" cy="450.9" r="0.5" fill="#222"/>
<circle cx="89.6" cy="452.6" r="0.5" fill="#222"/>
<circle cx="91.6" cy="433.7" r="0.5" fill="#222"/>
<circle cx="86.8" cy="474.5" r="0.8" fill="#222"/>
<circle cx="82.6" cy="450.3" r="0.6" fill="#222"/>
<circle cx="93.2" cy="469.4" r="0.6" fill="#222"/>
<circle cx="90.8" cy="478.1" r="0.8" fill="#222"/>
<circle cx="94.1" cy="434.8" r="0.5" fill="#222"/>
<circle cx="83.5" cy="461.1" r="0.4" fill="#222"/>
<circle cx="87.9" cy="457.5" r="0.6" fill="#222"/>
<circle cx="85.2" cy="434.5" r="0.6" fill="#222"/>
<circle cx="89.5" cy="443.5" r="0.5" fill="#222"/>
<circle cx="90.6" cy="453.7" r="0.4" fill="#222"/>
<circle cx="87.5" cy="472.1" r="0.8" fill="#222"/>
<circle cx="86.8" cy="447.4" r="0.8" fill="#222"/>
<circle cx="89.9" cy="430.2" r="0.4" fill="#222"/>
<circle cx="94.5" cy="449.8" r="0.4" fill="#222"/>
<circle cx="86.0" cy="429.7" r="0.4" fill="#222"/>
<circle cx="89.0" cy="454.8" r="0.6" fill="#222"/>
<circle cx="89.6" cy="430.6" r="0.5" fill="#222"/>
<circle cx="89.6" cy="434.7" r="0.6" fill="#222"/>
<circle cx="94.1" cy="458.2" r="0.8" fill="#222"/>
<circle cx="83.1" cy="471.0" r="0.8" fill="#222"/>
<circle cx="87.8" cy="443.2" r="0.5" fill="#222"/>
<circle cx="82.8" cy="444.7" r="0.6" fill="#222"/>
<circle cx="87.8" cy="462.8" r="0.4" fill="#222"/>
<circle cx="84.2" cy="476.3" r="0.6" fill="#222"/>
<circle cx="83.4" cy="455.1" r="0.4" fill="#222"/>
<circle cx="91.5" cy="442.4" r="0.4" fill="#222"/>
<circle cx="90.7" cy="440.5" r="0.6" fill="#222"/>
<circle cx="93.5" cy="445.4" r="0.5" fill="#222"/>
<circle cx="88.5" cy="467.4" r="0.6" fill="#222"/>
<circle cx="89.9" cy="458.8" r="0.5" fill="#222"/>
<circle cx="92.1" cy="469.4" r="0.5" fill="#222"/>
<circle cx="84.1" cy="452.5" r="0.4" fill="#222"/>
<circle cx="94.6" cy="467.9" r="0.8" fill="#222"/>
<circle cx="84.9" cy="462.9" r="0.6" fill="#222"/>
<circle cx="87.4" cy="475.5" r="0.6" fill="#222"/>
<circle cx="94.1" cy="445.9" r="0.5" fill="#222"/>
<circle cx="82.8" cy="451.4" r="0.6" fill="#222"/>
<circle cx="84.2" cy="459.3" r="0.4" fill="#222"/>
<circle cx="87.8" cy="460.8" r="0.4" fill="#222"/>
<circle cx="92.5" cy="433.2" r="0.8" fill="#222"/>
<circle cx="91.8" cy="465.9" r="0.8" fill="#222"/>
<circle cx="93.2" cy="449.5" r="0.6" fill="#222"/>
<circle cx="82.6" cy="476.0" r="0.8" fill="#222"/>
<circle cx="87.6" cy="465.5" r="0.4" fill="#222"/>
<circle cx="91.1" cy="435.8" r="0.5" fill="#222"/>
<circle cx="81.9" cy="457.6" r="0.8" fill="#222"/>
<circle cx="92.1" cy="434.6" r="0.8" fill="#222"/>
<circle cx="90.2" cy="445.2" r="0.5" fill="#222"/>
<circle cx="81.8" cy="468.4" r="0.4" fill="#222"/>
<circle cx="88.5" cy="475.4" r="0.8" fill="#222"/>
<circle cx="94.5" cy="437.1" r="0.5" fill="#222"/>
<circle cx="81.9" cy="438.0" r="0.5" fill="#222"/>
<circle cx="91.6" cy="443.9" r="0.8" fill="#222"/>
<circle cx="92.5" cy="430.2" r="0.6" fill="#222"/>
<circle cx="93.3" cy="461.3" r="0.8" fill="#222"/>
<circle cx="92.4" cy="472.5" r="0.5" fill="#222"/>
<circle cx="88.5" cy="454.1" r="0.4" fill="#222"/>
<circle cx="93.0" cy="467.2" r="0.4" fill="#222"/>
<circle cx="91.7" cy="434.8" r="0.5" fill="#222"/>
<circle cx="87.8" cy="464.6" r="0.4" fill="#222"/>
<circle cx="85.8" cy="453.9" r="0.8" fill="#222"/>
<circle cx="91.9" cy="432.5" r="0.4" fill="#222"/>
<circle cx="84.8" cy="441.3" r="0.4" fill="#222"/>
<circle cx="88.2" cy="456.1" r="0.4" fill="#222"/>
<circle cx="87.4" cy="458.7" r="0.5" fill="#222"/>
<circle cx="90.6" cy="450.4" r="0.8" fill="#222"/>
<circle cx="88.2" cy="439.8" r="0.6" fill="#222"/>
<circle cx="93.7" cy="473.2" r="0.5" fill="#222"/>
<circle cx="92.6" cy="434.1" r="0.4" fill="#222"/>
<circle cx="86.7" cy="443.4" r="0.5" fill="#222"/>
<circle cx="87.2" cy="438.0" r="0.6" fill="#222"/>
<circle cx="91.8" cy="473.5" r="0.5" fill="#222"/>
<circle cx="93.9" cy="460.3" r="0.6" fill="#222"/>
<circle cx="83.4" cy="472.7" r="0.8" fill="#222"/>
<circle cx="84.4" cy="476.3" r="0.8" fill="#222"/>
<circle cx="93.2" cy="435.4" r="0.5" fill="#222"/>
<circle cx="83.6" cy="449.4" r="0.8" fill="#222"/>
<circle cx="86.0" cy="437.1" r="0.6" fill="#222"/>
<circle cx="82.7" cy="446.0" r="0.6" fill="#222"/>
<circle cx="88.8" cy="449.8" r="0.4" fill="#222"/>
<circle cx="86.6" cy="453.8" r="0.6" fill="#222"/>
<circle cx="88.3" cy="430.3" r="0.5" fill="#222"/>
<circle cx="94.3" cy="432.4" r="0.6" fill="#222"/>
<circle cx="85.1" cy="473.9" r="0.5" fill="#222"/>
<circle cx="85.1" cy="433.7" r="0.8" fill="#222"/>
<circle cx="92.7" cy="462.0" r="0.6" fill="#222"/>
<circle cx="86.9" cy="454.8" r="0.8" fill="#222"/>
<circle cx="90.7" cy="431.6" r="0.4" fill="#222"/>
<circle cx="92.1" cy="436.5" r="0.4" fill="#222"/>
<circle cx="85.0" cy="427.9" r="0.4" fill="#222"/>
<circle cx="92.1" cy="431.3" r="0.5" fill="#222"/>
<circle cx="82.4" cy="471.7" r="0.8" fill="#222"/>
<circle cx="81.7" cy="478.5" r="0.8" fill="#222"/>
<circle cx="93.7" cy="440.9" r="0.5" fill="#222"/>
<circle cx="82.1" cy="463.8" r="0.4" fill="#222"/>
<circle cx="94.3" cy="440.6" r="0.5" fill="#222"/>
<circle cx="84.2" cy="443.2" r="0.6" fill="#222"/>
<circle cx="88.5" cy="437.7" r="0.8" fill="#222"/>
<circle cx="88.1" cy="436.2" r="0.6" fill="#222"/>
<circle cx="92.1" cy="478.5" r="0.4" fill="#222"/>
<circle cx="81.7" cy="465.0" r="0.5" fill="#222"/>
<circle cx="88.3" cy="439.7" r="0.8" fill="#222"/>
<circle cx="82.9" cy="469.4" r="0.8" fill="#222"/>
<circle cx="90.2" cy="455.3" r="0.8" fill="#222"/>
<circle cx="94.3" cy="442.9" r="0.5" fill="#222"/>
<circle cx="94.5" cy="444.8" r="0.5" fill="#222"/>
<circle cx="86.8" cy="445.0" r="0.4" fill="#222"/>
<circle cx="92.5" cy="427.7" r="0.6" fill="#222"/>
<circle cx="87.2" cy="429.9" r="0.8" fill="#222"/>
<circle cx="93.0" cy="461.7" r="0.6" fill="#222"/>
<circle cx="89.4" cy="462.9" r="0.4" fill="#222"/>
<circle cx="87.6" cy="435.2" r="0.8" fill="#222"/>
<circle cx="81.5" cy="445.9" r="0.6" fill="#222"/>
<circle cx="94.3" cy="455.3" r="0.5" fill="#222"/>
<circle cx="82.0" cy="472.7" r="0.5" fill="#222"/>
<circle cx="86.2" cy="427.1" r="0.8" fill="#222"/>
<circle cx="82.6" cy="441.4" r="0.5" fill="#222"/>
<circle cx="84.8" cy="467.2" r="0.4" fill="#222"/>
<circle cx="85.0" cy="431.6" r="0.8" fill="#222"/>
<circle cx="89.2" cy="447.4" r="0.6" fill="#222"/>
<circle cx="85.5" cy="439.1" r="0.5" fill="#222"/>
<circle cx="90.2" cy="464.1" r="0.8" fill="#222"/>
<circle cx="91.6" cy="464.3" r="0.8" fill="#222"/>
<circle cx="83.5" cy="464.5" r="0.5" fill="#222"/>
<circle cx="82.1" cy="470.3" r="0.8" fill="#222"/>
<circle cx="91.2" cy="469.1" r="0.5" fill="#222"/>
<circle cx="93.5" cy="466.0" r="0.4" fill="#222"/>
<circle cx="92.4" cy="457.3" r="0.5" fill="#222"/>
<circle cx="82.6" cy="429.2" r="0.6" fill="#222"/>
<circle cx="94.2" cy="446.5" r="0.8" fill="#222"/>
<circle cx="88.9" cy="459.5" r="0.5" fill="#222"/>
<circle cx="88.0" cy="427.2" r="0.4" fill="#222"/>
<circle cx="91.4" cy="453.1" r="0.4" fill="#222"/>
<circle cx="90.2" cy="430.4" r="0.8" fill="#222"/>
<circle cx="84.8" cy="430.9" r="0.6" fill="#222"/>
<circle cx="84.6" cy="466.2" r="0.5" fill="#222"/>
<circle cx="91.3" cy="477.5" r="0.8" fill="#222"/>
<circle cx="92.7" cy="431.0" r="0.6" fill="#222"/>
<circle cx="91.6" cy="459.0" r="0.5" fill="#222"/>
<circle cx="82.5" cy="434.6" r="0.6" fill="#222"/>
<circle cx="90.1" cy="462.9" r="0.5" fill="#222"/>
<circle cx="81.7" cy="430.1" r="0.6" fill="#222"/>
<circle cx="94.3" cy="432.2" r="0.5" fill="#222"/>
<circle cx="90.4" cy="442.1" r="0.6" fill="#222"/>
<circle cx="87.6" cy="451.2" r="0.4" fill="#222"/>
<circle cx="94.6" cy="455.4" r="0.6" fill="#222"/>
<circle cx="94.4" cy="475.5" r="0.4" fill="#222"/>
<circle cx="85.3" cy="431.0" r="0.8" fill="#222"/>
<circle cx="94.6" cy="447.0" r="0.5" fill="#222"/>
<circle cx="82.5" cy="431.7" r="0.6" fill="#222"/>
<circle cx="94.1" cy="433.9" r="0.6" fill="#222"/>
<circle cx="93.2" cy="463.4" r="0.5" fill="#222"/>
<circle cx="88.1" cy="472.4" r="0.8" fill="#222"/>
<circle cx="81.8" cy="427.2" r="0.8" fill="#222"/>
<circle cx="90.5" cy="448.0" r="0.5" fill="#222"/>
<circle cx="87.0" cy="446.5" r="0.4" fill="#222"/>
<circle cx="92.6" cy="427.1" r="0.6" fill="#222"/>
<circle cx="92.6" cy="433.2" r="0.5" fill="#222"/>
<circle cx="90.9" cy="473.7" r="0.6" fill="#222"/>
<circle cx="84.8" cy="430.4" r="0.8" fill="#222"/>
<circle cx="94.7" cy="457.5" r="0.6" fill="#222"/>
<circle cx="93.7" cy="466.1" r="0.4" fill="#222"/>
<circle cx="85.2" cy="429.7" r="0.6" fill="#222"/>
<circle cx="89.9" cy="434.7" r="0.6" fill="#222"/>
<circle cx="87.3" cy="443.3" r="0.6" fill="#222"/>
<circle cx="91.9" cy="449.2" r="0.4" fill="#222"/>
<circle cx="92.2" cy="459.7" r="0.5" fill="#222"/>
<circle cx="91.0" cy="429.6" r="0.8" fill="#222"/>
<circle cx="87.5" cy="466.0" r="0.6" fill="#222"/>
<circle cx="87.9" cy="474.2" r="0.5" fill="#222"/>
<circle cx="83.8" cy="448.5" r="0.6" fill="#222"/>
<circle cx="85.4" cy="465.3" r="0.6" fill="#222"/>
<circle cx="86.9" cy="439.4" r="0.8" fill="#222"/>
<circle cx="88.9" cy="447.4" r="0.5" fill="#222"/>
<circle cx="90.0" cy="430.9" r="0.8" fill="#222"/>
<circle cx="88.8" cy="450.5" r="0.6" fill="#222"/>
<circle cx="94.7" cy="450.3" r="0.5" fill="#222"/>
<circle cx="88.7" cy="439.6" r="0.5" fill="#222"/>
<circle cx="86.0" cy="431.7" r="0.5" fill="#222"/>
<circle cx="86.4" cy="468.9" r="0.5" fill="#222"/>
<circle cx="93.2" cy="465.8" r="0.8" fill="#222"/>
<circle cx="86.6" cy="465.6" r="0.5" fill="#222"/>
<circle cx="86.5" cy="444.5" r="0.4" fill="#222"/>
<circle cx="88.1" cy="456.7" r="0.6" fill="#222"/>
<circle cx="83.2" cy="453.1" r="0.5" fill="#222"/>
<circle cx="82.7" cy="473.5" r="0.8" fill="#222"/>
<circle cx="86.8" cy="450.1" r="0.6" fill="#222"/>
<circle cx="92.7" cy="472.2" r="0.4" fill="#222"/>
<circle cx="83.2" cy="449.0" r="0.8" fill="#222"/>
<circle cx="94.3" cy="452.4" r="0.4" fill="#222"/>
<circle cx="86.7" cy="475.0" r="0.8" fill="#222"/>
<circle cx="94.3" cy="439.9" r="0.4" fill="#222"/>
<circle cx="84.5" cy="434.9" r="0.4" fill="#222"/>
<circle cx="93.9" cy="464.4" r="0.8" fill="#222"/>
<circle cx="82.6" cy="467.2" r="0.4" fill="#222"/>
<circle cx="91.8" cy="439.0" r="0.4" fill="#222"/>
<circle cx="90.0" cy="442.7" r="0.5" fill="#222"/>
<circle cx="89.8" cy="454.4" r="0.8" fill="#222"/>
<circle cx="90.7" cy="432.8" r="0.4" fill="#222"/>
<circle cx="85.5" cy="475.9" r="0.5" fill="#222"/>
<circle cx="86.6" cy="438.6" r="0.4" fill="#222"/>
<circle cx="81.6" cy="442.6" r="0.8" fill="#222"/>
<circle cx="85.2" cy="443.4" r="0.5" fill="#222"/>
<circle cx="87.8" cy="439.2" r="0.5" fill="#222"/>
<circle cx="81.9" cy="448.3" r="0.6" fill="#222"/>
<circle cx="82.2" cy="437.1" r="0.8" fill="#222"/>
<circle cx="82.6" cy="438.8" r="0.8" fill="#222"/>
<circle cx="93.7" cy="438.7" r="0.4" fill="#222"/>
<circle cx="90.7" cy="464.2" r="0.6" fill="#222"/>
<circle cx="90.5" cy="437.3" r="0.6" fill="#222"/>
<circle cx="91.3" cy="453.2" r="0.5" fill="#222"/>
<circle cx="88.0" cy="437.4" r="0.5" fill="#222"/>
<circle cx="84.5" cy="438.5" r="0.6" fill="#222"/>
<circle cx="82.9" cy="459.3" r="0.5" fill="#222"/>
<circle cx="93.3" cy="452.1" r="0.4" fill="#222"/>
<circle cx="94.0" cy="434.6" r="0.8" fill="#222"/>
<circle cx="82.2" cy="428.2" r="0.5" fill="#222"/>
<circle cx="87.0" cy="463.8" r="0.5" fill="#222"/>
<circle cx="86.7" cy="473.5" r="0.6" fill="#222"/>
<circle cx="91.2" cy="478.7" r="0.5" fill="#222"/>
<path d="M85.8 437.1l1.6 -1.2l.4 1.8z" fill="none" stroke="#333" stroke-width=".5"/>
<path d="M92.5 464.6l1.6 -1.2l.4 1.8z" fill="none" stroke="#333" stroke-width=".5"/>
<path d="M82.6 460.6l1.6 -1.2l.4 1.8z" fill="none" stroke="#333" stroke-width=".5"/>
<path d="M86.4 446.3l1.6 -1.2l.4 1.8z" fill="none" stroke="#333" stroke-width=".5"/>
<path d="M85.8 436.3l1.6 -1.2l.4 1.8z" fill="none" stroke="#333" stroke-width=".5"/>
<path d="M82.2 441.7l1.6 -1.2l.4 1.8z" fill="none" stroke="#333" stroke-width=".5"/>
<path d="M86.1 474.8l1.6 -1.2l.4 1.8z" fill="none" stroke="#333" stroke-width=".5"/>
<path d="M83.6 475.2l1.6 -1.2l.4 1.8z" fill="none" stroke="#333" stroke-width=".5"/>
<path d="M84.5 445.5l1.6 -1.2l.4 1.8z" fill="none" stroke="#333" stroke-width=".5"/>
<path d="M91.2 468.3l1.6 -1.2l.4 1.8z" fill="none" stroke="#333" stroke-width=".5"/>
<path d="M87.0 430.4l1.6 -1.2l.4 1.8z" fill="none" stroke="#333" stroke-width=".5"/>
<path d="M87.4 446.3l1.6 -1.2l.4 1.8z" fill="none" stroke="#333" stroke-width=".5"/>
<path d="M92.3 437.5l1.6 -1.2l.4 1.8z" fill="none" stroke="#333" stroke-width=".5"/>
<path d="M86.2 472.0l1.6 -1.2l.4 1.8z" fill="none" stroke="#333" stroke-width=".5"/>
<path d="M82.5 448.1l1.6 -1.2l.4 1.8z" fill="none" stroke="#333" stroke-width=".5"/>
<path d="M91.1 465.6l1.6 -1.2l.4 1.8z" fill="none" stroke="#333" stroke-width=".5"/>
<path d="M82.6 429.7l1.6 -1.2l.4 1.8z" fill="none" stroke="#333" stroke-width=".5"/>
<path d="M82.9 473.1l1.6 -1.2l.4 1.8z" fill="none" stroke="#333" stroke-width=".5"/>
<path d="M85.0 464.6l1.6 -1.2l.4 1.8z" fill="none" stroke="#333" stroke-width=".5"/>
<path d="M92.1 444.6l1.6 -1.2l.4 1.8z" fill="none" stroke="#333" stroke-width=".5"/>
<path d="M85.2 474.9l1.6 -1.2l.4 1.8z" fill="none" stroke="#333" stroke-width=".5"/>
<path d="M89.0 440.8l1.6 -1.2l.4 1.8z" fill="none" stroke="#333" stroke-width=".5"/>
<rect x="289.8" y="426.3" width="15.2" height="53.2" fill="#fff" stroke="#111" stroke-width="1.0" />
<circle cx="300.1" cy="443.4" r="0.6" fill="#222"/>
<circle cx="294.5" cy="464.4" r="0.4" fill="#222"/>
<circle cx="290.9" cy="439.1" r="0.8" fill="#222"/>
<circle cx="300.0" cy="451.1" r="0.8" fill="#222"/>
<circle cx="301.0" cy="474.3" r="0.8" fill="#222"/>
<circle cx="292.4" cy="452.7" r="0.4" fill="#222"/>
<circle cx="301.2" cy="465.3" r="0.5" fill="#222"/>
<circle cx="298.6" cy="444.0" r="0.6" fill="#222"/>
<circle cx="296.7" cy="467.6" r="0.4" fill="#222"/>
<circle cx="297.4" cy="447.3" r="0.5" fill="#222"/>
<circle cx="293.9" cy="430.4" r="0.4" fill="#222"/>
<circle cx="297.0" cy="455.2" r="0.5" fill="#222"/>
<circle cx="303.5" cy="472.8" r="0.4" fill="#222"/>
<circle cx="294.1" cy="431.4" r="0.4" fill="#222"/>
<circle cx="296.2" cy="478.2" r="0.8" fill="#222"/>
<circle cx="292.9" cy="433.9" r="0.8" fill="#222"/>
<circle cx="298.8" cy="461.9" r="0.4" fill="#222"/>
<circle cx="300.9" cy="442.2" r="0.6" fill="#222"/>
<circle cx="298.1" cy="446.3" r="0.6" fill="#222"/>
<circle cx="293.2" cy="439.8" r="0.5" fill="#222"/>
<circle cx="293.7" cy="441.6" r="0.5" fill="#222"/>
<circle cx="294.9" cy="447.5" r="0.5" fill="#222"/>
<circle cx="297.3" cy="439.0" r="0.4" fill="#222"/>
<circle cx="299.2" cy="478.3" r="0.4" fill="#222"/>
<circle cx="290.7" cy="472.7" r="0.5" fill="#222"/>
<circle cx="301.7" cy="474.4" r="0.4" fill="#222"/>
<circle cx="302.2" cy="439.1" r="0.4" fill="#222"/>
<circle cx="293.1" cy="477.4" r="0.5" fill="#222"/>
<circle cx="302.9" cy="446.3" r="0.5" fill="#222"/>
<circle cx="296.5" cy="440.5" r="0.4" fill="#222"/>
<circle cx="292.0" cy="457.9" r="0.6" fill="#222"/>
<circle cx="293.5" cy="446.1" r="0.5" fill="#222"/>
<circle cx="291.2" cy="478.8" r="0.4" fill="#222"/>
<circle cx="298.5" cy="460.8" r="0.5" fill="#222"/>
<circle cx="301.4" cy="469.4" r="0.8" fill="#222"/>
<circle cx="299.6" cy="436.6" r="0.6" fill="#222"/>
<circle cx="291.6" cy="428.6" r="0.8" fill="#222"/>
<circle cx="297.8" cy="430.3" r="0.4" fill="#222"/>
<circle cx="301.1" cy="461.4" r="0.5" fill="#222"/>
<circle cx="299.0" cy="431.7" r="0.5" fill="#222"/>
<circle cx="295.9" cy="441.0" r="0.6" fill="#222"/>
<circle cx="299.4" cy="448.6" r="0.4" fill="#222"/>
<circle cx="294.7" cy="456.3" r="0.6" fill="#222"/>
<circle cx="296.1" cy="427.9" r="0.6" fill="#222"/>
<circle cx="299.1" cy="447.2" r="0.8" fill="#222"/>
<circle cx="293.3" cy="427.3" r="0.5" fill="#222"/>
<circle cx="296.2" cy="469.5" r="0.8" fill="#222"/>
<circle cx="298.2" cy="445.9" r="0.5" fill="#222"/>
<circle cx="292.3" cy="429.7" r="0.5" fill="#222"/>
<circle cx="299.1" cy="474.1" r="0.4" fill="#222"/>
<circle cx="298.2" cy="475.0" r="0.5" fill="#222"/>
<circle cx="292.5" cy="441.7" r="0.5" fill="#222"/>
<circle cx="302.8" cy="432.6" r="0.8" fill="#222"/>
<circle cx="300.5" cy="468.0" r="0.5" fill="#222"/>
<circle cx="294.6" cy="470.4" r="0.4" fill="#222"/>
<circle cx="303.5" cy="452.0" r="0.4" fill="#222"/>
<circle cx="298.6" cy="460.0" r="0.4" fill="#222"/>
<circle cx="302.5" cy="459.1" r="0.5" fill="#222"/>
<circle cx="299.1" cy="471.4" r="0.8" fill="#222"/>
<circle cx="298.7" cy="437.2" r="0.8" fill="#222"/>
<circle cx="293.0" cy="438.3" r="0.8" fill="#222"/>
<circle cx="303.0" cy="435.1" r="0.6" fill="#222"/>
<circle cx="292.2" cy="439.8" r="0.5" fill="#222"/>
<circle cx="291.1" cy="456.1" r="0.4" fill="#222"/>
<circle cx="299.4" cy="443.8" r="0.8" fill="#222"/>
<circle cx="298.5" cy="455.5" r="0.6" fill="#222"/>
<circle cx="299.2" cy="443.0" r="0.5" fill="#222"/>
<circle cx="296.2" cy="461.1" r="0.8" fill="#222"/>
<circle cx="297.2" cy="436.3" r="0.4" fill="#222"/>
<circle cx="298.8" cy="452.4" r="0.5" fill="#222"/>
<circle cx="296.5" cy="459.0" r="0.8" fill="#222"/>
<circle cx="301.6" cy="469.0" r="0.8" fill="#222"/>
<circle cx="292.0" cy="433.7" r="0.8" fill="#222"/>
<circle cx="295.4" cy="468.6" r="0.4" fill="#222"/>
<circle cx="291.1" cy="433.7" r="0.6" fill="#222"/>
<circle cx="300.9" cy="453.5" r="0.4" fill="#222"/>
<circle cx="300.5" cy="473.4" r="0.5" fill="#222"/>
<circle cx="290.9" cy="430.4" r="0.4" fill="#222"/>
<circle cx="293.2" cy="477.9" r="0.8" fill="#222"/>
<circle cx="294.4" cy="469.0" r="0.5" fill="#222"/>
<circle cx="299.7" cy="464.4" r="0.5" fill="#222"/>
<circle cx="291.5" cy="445.2" r="0.6" fill="#222"/>
<circle cx="292.7" cy="473.4" r="0.6" fill="#222"/>
<circle cx="302.5" cy="450.6" r="0.6" fill="#222"/>
<circle cx="297.2" cy="474.7" r="0.5" fill="#222"/>
<circle cx="298.4" cy="458.9" r="0.5" fill="#222"/>
<circle cx="294.8" cy="428.9" r="0.5" fill="#222"/>
<circle cx="295.9" cy="460.0" r="0.6" fill="#222"/>
<circle cx="299.6" cy="473.4" r="0.5" fill="#222"/>
<circle cx="301.1" cy="440.7" r="0.4" fill="#222"/>
<circle cx="299.0" cy="445.6" r="0.8" fill="#222"/>
<circle cx="297.9" cy="457.0" r="0.4" fill="#222"/>
<circle cx="293.9" cy="454.7" r="0.8" fill="#222"/>
<circle cx="300.3" cy="446.2" r="0.8" fill="#222"/>
<circle cx="303.7" cy="456.9" r="0.6" fill="#222"/>
<circle cx="295.0" cy="431.2" r="0.5" fill="#222"/>
<circle cx="292.9" cy="465.5" r="0.4" fill="#222"/>
<circle cx="294.5" cy="453.7" r="0.6" fill="#222"/>
<circle cx="299.0" cy="478.0" r="0.6" fill="#222"/>
<circle cx="300.3" cy="465.7" r="0.5" fill="#222"/>
<circle cx="292.6" cy="458.9" r="0.8" fill="#222"/>
<circle cx="296.1" cy="445.9" r="0.4" fill="#222"/>
<circle cx="292.3" cy="438.8" r="0.4" fill="#222"/>
<circle cx="290.9" cy="427.1" r="0.6" fill="#222"/>
<circle cx="294.6" cy="454.1" r="0.5" fill="#222"/>
<circle cx="296.1" cy="442.6" r="0.5" fill="#222"/>
<circle cx="293.3" cy="459.3" r="0.8" fill="#222"/>
<circle cx="292.7" cy="427.7" r="0.5" fill="#222"/>
<circle cx="299.9" cy="450.4" r="0.4" fill="#222"/>
<circle cx="299.0" cy="472.1" r="0.6" fill="#222"/>
<circle cx="295.9" cy="440.7" r="0.4" fill="#222"/>
<circle cx="291.3" cy="469.5" r="0.6" fill="#222"/>
<circle cx="298.5" cy="457.0" r="0.8" fill="#222"/>
<circle cx="293.9" cy="473.8" r="0.4" fill="#222"/>
<circle cx="291.4" cy="428.3" r="0.5" fill="#222"/>
<circle cx="293.7" cy="430.0" r="0.4" fill="#222"/>
<circle cx="290.8" cy="455.5" r="0.5" fill="#222"/>
<circle cx="292.5" cy="437.3" r="0.8" fill="#222"/>
<circle cx="301.3" cy="436.0" r="0.6" fill="#222"/>
<circle cx="291.4" cy="459.4" r="0.8" fill="#222"/>
<circle cx="300.0" cy="427.3" r="0.8" fill="#222"/>
<circle cx="300.4" cy="451.1" r="0.8" fill="#222"/>
<circle cx="292.9" cy="478.6" r="0.6" fill="#222"/>
<circle cx="293.7" cy="429.0" r="0.6" fill="#222"/>
<circle cx="302.4" cy="474.9" r="0.6" fill="#222"/>
<circle cx="300.0" cy="440.8" r="0.8" fill="#222"/>
<circle cx="299.7" cy="474.5" r="0.6" fill="#222"/>
<circle cx="294.5" cy="475.1" r="0.5" fill="#222"/>
<circle cx="291.7" cy="453.3" r="0.5" fill="#222"/>
<circle cx="294.0" cy="439.2" r="0.5" fill="#222"/>
<circle cx="303.1" cy="465.7" r="0.6" fill="#222"/>
<circle cx="293.1" cy="447.1" r="0.5" fill="#222"/>
<circle cx="295.6" cy="471.1" r="0.8" fill="#222"/>
<circle cx="296.8" cy="454.5" r="0.4" fill="#222"/>
<circle cx="301.9" cy="449.6" r="0.5" fill="#222"/>
<circle cx="298.1" cy="442.9" r="0.5" fill="#222"/>
<circle cx="295.8" cy="457.3" r="0.5" fill="#222"/>
<circle cx="292.5" cy="428.4" r="0.4" fill="#222"/>
<circle cx="298.8" cy="435.4" r="0.5" fill="#222"/>
<circle cx="299.8" cy="428.6" r="0.5" fill="#222"/>
<circle cx="299.7" cy="459.8" r="0.4" fill="#222"/>
<circle cx="300.3" cy="430.4" r="0.6" fill="#222"/>
<circle cx="293.2" cy="476.4" r="0.4" fill="#222"/>
<circle cx="302.2" cy="466.1" r="0.8" fill="#222"/>
<circle cx="292.0" cy="437.7" r="0.4" fill="#222"/>
<circle cx="291.0" cy="476.2" r="0.4" fill="#222"/>
<circle cx="301.5" cy="459.7" r="0.6" fill="#222"/>
<circle cx="296.9" cy="433.9" r="0.5" fill="#222"/>
<circle cx="294.5" cy="444.4" r="0.6" fill="#222"/>
<circle cx="290.9" cy="440.3" r="0.6" fill="#222"/>
<circle cx="291.2" cy="466.4" r="0.6" fill="#222"/>
<circle cx="300.8" cy="458.2" r="0.8" fill="#222"/>
<circle cx="301.8" cy="459.0" r="0.4" fill="#222"/>
<circle cx="301.0" cy="428.6" r="0.4" fill="#222"/>
<circle cx="295.2" cy="463.5" r="0.5" fill="#222"/>
<circle cx="300.0" cy="469.9" r="0.6" fill="#222"/>
<circle cx="292.8" cy="427.1" r="0.5" fill="#222"/>
<circle cx="294.4" cy="465.9" r="0.4" fill="#222"/>
<circle cx="290.7" cy="452.4" r="0.8" fill="#222"/>
<circle cx="299.8" cy="469.8" r="0.8" fill="#222"/>
<circle cx="298.4" cy="476.6" r="0.6" fill="#222"/>
<circle cx="298.2" cy="435.2" r="0.5" fill="#222"/>
<circle cx="303.0" cy="439.0" r="0.5" fill="#222"/>
<circle cx="292.1" cy="460.0" r="0.4" fill="#222"/>
<circle cx="297.1" cy="478.3" r="0.4" fill="#222"/>
<circle cx="298.9" cy="445.4" r="0.8" fill="#222"/>
<circle cx="302.9" cy="473.2" r="0.4" fill="#222"/>
<circle cx="296.2" cy="460.5" r="0.6" fill="#222"/>
<circle cx="293.3" cy="440.6" r="0.5" fill="#222"/>
<circle cx="295.6" cy="472.8" r="0.5" fill="#222"/>
<circle cx="303.1" cy="433.6" r="0.4" fill="#222"/>
<circle cx="295.2" cy="443.9" r="0.5" fill="#222"/>
<circle cx="302.1" cy="450.3" r="0.6" fill="#222"/>
<circle cx="292.8" cy="449.7" r="0.6" fill="#222"/>
<circle cx="298.2" cy="433.5" r="0.8" fill="#222"/>
<circle cx="299.1" cy="463.1" r="0.5" fill="#222"/>
<circle cx="294.1" cy="466.1" r="0.5" fill="#222"/>
<circle cx="300.1" cy="477.5" r="0.6" fill="#222"/>
<circle cx="298.6" cy="445.1" r="0.5" fill="#222"/>
<circle cx="294.9" cy="436.8" r="0.4" fill="#222"/>
<circle cx="292.8" cy="461.1" r="0.5" fill="#222"/>
<circle cx="295.7" cy="478.0" r="0.6" fill="#222"/>
<circle cx="300.3" cy="449.5" r="0.5" fill="#222"/>
<circle cx="292.0" cy="474.2" r="0.6" fill="#222"/>
<circle cx="293.3" cy="447.1" r="0.4" fill="#222"/>
<circle cx="290.8" cy="471.3" r="0.8" fill="#222"/>
<circle cx="299.8" cy="452.9" r="0.6" fill="#222"/>
<circle cx="296.7" cy="434.3" r="0.8" fill="#222"/>
<circle cx="290.7" cy="439.6" r="0.8" fill="#222"/>
<circle cx="299.9" cy="457.4" r="0.8" fill="#222"/>
<circle cx="301.8" cy="461.6" r="0.5" fill="#222"/>
<circle cx="299.6" cy="460.2" r="0.8" fill="#222"/>
<circle cx="296.3" cy="440.5" r="0.4" fill="#222"/>
<circle cx="302.4" cy="439.6" r="0.8" fill="#222"/>
<circle cx="300.0" cy="459.6" r="0.6" fill="#222"/>
<circle cx="301.8" cy="452.0" r="0.4" fill="#222"/>
<circle cx="298.8" cy="448.2" r="0.5" fill="#222"/>
<circle cx="302.4" cy="444.0" r="0.4" fill="#222"/>
<circle cx="295.7" cy="452.4" r="0.4" fill="#222"/>
<circle cx="291.1" cy="455.1" r="0.5" fill="#222"/>
<circle cx="300.1" cy="476.3" r="0.5" fill="#222"/>
<circle cx="297.5" cy="432.2" r="0.8" fill="#222"/>
<circle cx="297.7" cy="464.2" r="0.4" fill="#222"/>
<circle cx="299.0" cy="469.9" r="0.6" fill="#222"/>
<circle cx="296.0" cy="476.1" r="0.5" fill="#222"/>
<circle cx="303.7" cy="436.5" r="0.4" fill="#222"/>
<circle cx="300.2" cy="458.8" r="0.4" fill="#222"/>
<circle cx="293.9" cy="446.8" r="0.4" fill="#222"/>
<circle cx="290.8" cy="448.7" r="0.8" fill="#222"/>
<circle cx="298.9" cy="462.0" r="0.6" fill="#222"/>
<circle cx="292.0" cy="442.7" r="0.8" fill="#222"/>
<circle cx="303.0" cy="454.3" r="0.5" fill="#222"/>
<circle cx="303.7" cy="476.8" r="0.8" fill="#222"/>
<circle cx="293.4" cy="433.7" r="0.4" fill="#222"/>
<circle cx="301.3" cy="459.9" r="0.8" fill="#222"/>
<circle cx="299.1" cy="464.3" r="0.5" fill="#222"/>
<circle cx="295.3" cy="460.1" r="0.8" fill="#222"/>
<circle cx="296.8" cy="442.2" r="0.5" fill="#222"/>
<circle cx="300.9" cy="451.3" r="0.5" fill="#222"/>
<circle cx="294.1" cy="446.5" r="0.6" fill="#222"/>
<circle cx="303.6" cy="462.2" r="0.8" fill="#222"/>
<circle cx="290.6" cy="464.4" r="0.6" fill="#222"/>
<circle cx="295.3" cy="460.9" r="0.6" fill="#222"/>
<circle cx="296.9" cy="449.2" r="0.4" fill="#222"/>
<circle cx="299.3" cy="445.8" r="0.6" fill="#222"/>
<circle cx="301.9" cy="430.0" r="0.6" fill="#222"/>
<circle cx="300.9" cy="434.3" r="0.6" fill="#222"/>
<circle cx="299.0" cy="427.8" r="0.4" fill="#222"/>
<circle cx="293.4" cy="430.7" r="0.6" fill="#222"/>
<circle cx="293.9" cy="432.3" r="0.5" fill="#222"/>
<circle cx="301.9" cy="436.6" r="0.8" fill="#222"/>
<circle cx="295.2" cy="434.9" r="0.8" fill="#222"/>
<circle cx="301.1" cy="435.7" r="0.4" fill="#222"/>
<circle cx="299.4" cy="473.3" r="0.6" fill="#222"/>
<circle cx="293.2" cy="462.9" r="0.4" fill="#222"/>
<circle cx="300.4" cy="449.7" r="0.4" fill="#222"/>
<circle cx="297.9" cy="440.7" r="0.5" fill="#222"/>
<circle cx="301.5" cy="451.5" r="0.4" fill="#222"/>
<circle cx="297.0" cy="473.9" r="0.8" fill="#222"/>
<circle cx="293.9" cy="435.5" r="0.4" fill="#222"/>
<circle cx="292.7" cy="443.6" r="0.8" fill="#222"/>
<circle cx="299.4" cy="470.5" r="0.6" fill="#222"/>
<circle cx="296.2" cy="478.8" r="0.4" fill="#222"/>
<circle cx="293.0" cy="445.7" r="0.4" fill="#222"/>
<circle cx="290.9" cy="429.4" r="0.6" fill="#222"/>
<circle cx="301.3" cy="431.9" r="0.8" fill="#222"/>
<circle cx="297.0" cy="473.5" r="0.4" fill="#222"/>
<circle cx="293.4" cy="448.5" r="0.5" fill="#222"/>
<circle cx="295.1" cy="471.6" r="0.6" fill="#222"/>
<circle cx="295.1" cy="467.3" r="0.5" fill="#222"/>
<path d="M294.4 444.8l1.6 -1.2l.4 1.8z" fill="none" stroke="#333" stroke-width=".5"/>
<path d="M294.1 430.6l1.6 -1.2l.4 1.8z" fill="none" stroke="#333" stroke-width=".5"/>
<path d="M294.5 445.4l1.6 -1.2l.4 1.8z" fill="none" stroke="#333" stroke-width=".5"/>
<path d="M296.7 444.4l1.6 -1.2l.4 1.8z" fill="none" stroke="#333" stroke-width=".5"/>
<path d="M302.1 470.8l1.6 -1.2l.4 1.8z" fill="none" stroke="#333" stroke-width=".5"/>
<path d="M295.1 438.0l1.6 -1.2l.4 1.8z" fill="none" stroke="#333" stroke-width=".5"/>
<path d="M296.7 433.8l1.6 -1.2l.4 1.8z" fill="none" stroke="#333" stroke-width=".5"/>
<path d="M293.4 462.9l1.6 -1.2l.4 1.8z" fill="none" stroke="#333" stroke-width=".5"/>
<path d="M292.7 475.7l1.6 -1.2l.4 1.8z" fill="none" stroke="#333" stroke-width=".5"/>
<path d="M292.3 476.8l1.6 -1.2l.4 1.8z" fill="none" stroke="#333" stroke-width=".5"/>
<path d="M295.7 455.2l1.6 -1.2l.4 1.8z" fill="none" stroke="#333" stroke-width=".5"/>
<path d="M295.8 456.1l1.6 -1.2l.4 1.8z" fill="none" stroke="#333" stroke-width=".5"/>
<path d="M295.7 433.3l1.6 -1.2l.4 1.8z" fill="none" stroke="#333" stroke-width=".5"/>
<path d="M291.8 468.3l1.6 -1.2l.4 1.8z" fill="none" stroke="#333" stroke-width=".5"/>
<path d="M296.5 465.5l1.6 -1.2l.4 1.8z" fill="none" stroke="#333" stroke-width=".5"/>
<path d="M292.0 452.5l1.6 -1.2l.4 1.8z" fill="none" stroke="#333" stroke-width=".5"/>
<path d="M297.3 446.4l1.6 -1.2l.4 1.8z" fill="none" stroke="#333" stroke-width=".5"/>
<path d="M292.9 461.0l1.6 -1.2l.4 1.8z" fill="none" stroke="#333" stroke-width=".5"/>
<path d="M298.9 470.9l1.6 -1.2l.4 1.8z" fill="none" stroke="#333" stroke-width=".5"/>
<path d="M292.2 429.9l1.6 -1.2l.4 1.8z" fill="none" stroke="#333" stroke-width=".5"/>
<path d="M298.3 458.6l1.6 -1.2l.4 1.8z" fill="none" stroke="#333" stroke-width=".5"/>
<path d="M293.2 460.5l1.6 -1.2l.4 1.8z" fill="none" stroke="#333" stroke-width=".5"/>
<path d="M86.5 478V268.6L88.7 266.2L90.9 268.6V478" fill="none" stroke="#666" stroke-width="1.1" />
<line x1="88.7" y1="226.6" x2="88.7" y2="235.6" stroke="#111" stroke-width="1.3" />
<line x1="88.7" y1="238.8" x2="88.7" y2="262" stroke="#111" stroke-width="1.3" />
<line x1="88.7" y1="265.4" x2="88.7" y2="479" stroke="#111" stroke-width="1.2" stroke-dasharray="11.8 2.4" stroke-dashoffset="6.4"/>
<path d="M294.6 478V268.6L296.8 266.2L299.0 268.6V478" fill="none" stroke="#666" stroke-width="1.1" />
<line x1="296.8" y1="226.6" x2="296.8" y2="235.6" stroke="#111" stroke-width="1.3" />
<line x1="296.8" y1="238.8" x2="296.8" y2="262" stroke="#111" stroke-width="1.3" />
<line x1="296.8" y1="265.4" x2="296.8" y2="479" stroke="#111" stroke-width="1.2" stroke-dasharray="11.8 2.4" stroke-dashoffset="6.4"/>
<rect x="91" y="291.3" width="204" height="3.6" fill="#fff" stroke="#111" stroke-width="0.9" />
<rect x="91" y="409.8" width="204" height="3.6" fill="#fff" stroke="#111" stroke-width="0.9" />
<rect x="95.8" y="273.6" width="2.25" height="152.7" fill="#111" stroke="#111" stroke-width="0" />
<rect x="99.85" y="273.6" width="2.25" height="152.7" fill="#111" stroke="#111" stroke-width="0" />
<path d="M98.95 266.7 L102.95 272.7 L102.10 274.4 L95.80 274.4 L94.95 272.7 Z" fill="#111" stroke="#111" stroke-width="0.3" />
<path d="M98.95 268.6 L99.85 271.2 L99.85 275 L98.05 275 L98.05 271.2 Z" fill="#fff" stroke="none" stroke-width="0" />
<path d="M95.65 273.3 l0.9 -1 l0.5 1.5 z M102.25 273.3 l-0.9 -1 l-0.5 1.5 z" fill="#ddd" stroke="none" stroke-width="0" />
<rect x="107.48" y="273.6" width="2.25" height="152.7" fill="#111" stroke="#111" stroke-width="0" />
<rect x="111.53" y="273.6" width="2.25" height="152.7" fill="#111" stroke="#111" stroke-width="0" />
<line x1="110.93" y1="272" x2="110.93" y2="426" stroke="#555" stroke-width="0.5" />
<path d="M110.63 266.7 L114.63 272.7 L113.78 274.4 L107.48 274.4 L106.63 272.7 Z" fill="#111" stroke="#111" stroke-width="0.3" />
<path d="M110.63 268.6 L111.53 271.2 L111.53 275 L109.73 275 L109.73 271.2 Z" fill="#fff" stroke="none" stroke-width="0" />
<path d="M107.33 273.3 l0.9 -1 l0.5 1.5 z M113.93 273.3 l-0.9 -1 l-0.5 1.5 z" fill="#ddd" stroke="none" stroke-width="0" />
<rect x="119.16" y="273.6" width="2.25" height="152.7" fill="#111" stroke="#111" stroke-width="0" />
<rect x="123.21" y="273.6" width="2.25" height="152.7" fill="#111" stroke="#111" stroke-width="0" />
<path d="M122.31 266.7 L126.31 272.7 L125.46 274.4 L119.16 274.4 L118.31 272.7 Z" fill="#111" stroke="#111" stroke-width="0.3" />
<path d="M122.31 268.6 L123.21 271.2 L123.21 275 L121.41 275 L121.41 271.2 Z" fill="#fff" stroke="none" stroke-width="0" />
<path d="M119.01 273.3 l0.9 -1 l0.5 1.5 z M125.61 273.3 l-0.9 -1 l-0.5 1.5 z" fill="#ddd" stroke="none" stroke-width="0" />
<rect x="130.84" y="273.6" width="2.25" height="152.7" fill="#111" stroke="#111" stroke-width="0" />
<rect x="134.89" y="273.6" width="2.25" height="152.7" fill="#111" stroke="#111" stroke-width="0" />
<path d="M133.99 266.7 L137.99 272.7 L137.14 274.4 L130.84 274.4 L129.99 272.7 Z" fill="#111" stroke="#111" stroke-width="0.3" />
<path d="M133.99 268.6 L134.89 271.2 L134.89 275 L133.09 275 L133.09 271.2 Z" fill="#fff" stroke="none" stroke-width="0" />
<path d="M130.69 273.3 l0.9 -1 l0.5 1.5 z M137.29 273.3 l-0.9 -1 l-0.5 1.5 z" fill="#ddd" stroke="none" stroke-width="0" />
<rect x="142.52" y="273.6" width="2.25" height="152.7" fill="#111" stroke="#111" stroke-width="0" />
<rect x="146.57" y="273.6" width="2.25" height="152.7" fill="#111" stroke="#111" stroke-width="0" />
<line x1="145.97" y1="272" x2="145.97" y2="426" stroke="#555" stroke-width="0.5" />
<path d="M145.67 266.7 L149.67 272.7 L148.82 274.4 L142.52 274.4 L141.67 272.7 Z" fill="#111" stroke="#111" stroke-width="0.3" />
<path d="M145.67 268.6 L146.57 271.2 L146.57 275 L144.77 275 L144.77 271.2 Z" fill="#fff" stroke="none" stroke-width="0" />
<path d="M142.37 273.3 l0.9 -1 l0.5 1.5 z M148.97 273.3 l-0.9 -1 l-0.5 1.5 z" fill="#ddd" stroke="none" stroke-width="0" />
<rect x="154.2" y="273.6" width="2.25" height="152.7" fill="#111" stroke="#111" stroke-width="0" />
<rect x="158.25" y="273.6" width="2.25" height="152.7" fill="#111" stroke="#111" stroke-width="0" />
<path d="M157.35 266.7 L161.35 272.7 L160.50 274.4 L154.20 274.4 L153.35 272.7 Z" fill="#111" stroke="#111" stroke-width="0.3" />
<path d="M157.35 268.6 L158.25 271.2 L158.25 275 L156.45 275 L156.45 271.2 Z" fill="#fff" stroke="none" stroke-width="0" />
<path d="M154.05 273.3 l0.9 -1 l0.5 1.5 z M160.65 273.3 l-0.9 -1 l-0.5 1.5 z" fill="#ddd" stroke="none" stroke-width="0" />
<rect x="165.88" y="273.6" width="2.25" height="152.7" fill="#111" stroke="#111" stroke-width="0" />
<rect x="169.93" y="273.6" width="2.25" height="152.7" fill="#111" stroke="#111" stroke-width="0" />
<path d="M169.03 266.7 L173.03 272.7 L172.18 274.4 L165.88 274.4 L165.03 272.7 Z" fill="#111" stroke="#111" stroke-width="0.3" />
<path d="M169.03 268.6 L169.93 271.2 L169.93 275 L168.13 275 L168.13 271.2 Z" fill="#fff" stroke="none" stroke-width="0" />
<path d="M165.73 273.3 l0.9 -1 l0.5 1.5 z M172.33 273.3 l-0.9 -1 l-0.5 1.5 z" fill="#ddd" stroke="none" stroke-width="0" />
<rect x="177.56" y="273.6" width="2.25" height="152.7" fill="#111" stroke="#111" stroke-width="0" />
<rect x="181.61" y="273.6" width="2.25" height="152.7" fill="#111" stroke="#111" stroke-width="0" />
<line x1="181.01" y1="272" x2="181.01" y2="426" stroke="#555" stroke-width="0.5" />
<path d="M180.71 266.7 L184.71 272.7 L183.86 274.4 L177.56 274.4 L176.71 272.7 Z" fill="#111" stroke="#111" stroke-width="0.3" />
<path d="M180.71 268.6 L181.61 271.2 L181.61 275 L179.81 275 L179.81 271.2 Z" fill="#fff" stroke="none" stroke-width="0" />
<path d="M177.41 273.3 l0.9 -1 l0.5 1.5 z M184.01 273.3 l-0.9 -1 l-0.5 1.5 z" fill="#ddd" stroke="none" stroke-width="0" />
<rect x="189.24" y="273.6" width="2.25" height="152.7" fill="#111" stroke="#111" stroke-width="0" />
<rect x="193.29" y="273.6" width="2.25" height="152.7" fill="#111" stroke="#111" stroke-width="0" />
<path d="M192.39 266.7 L196.39 272.7 L195.54 274.4 L189.24 274.4 L188.39 272.7 Z" fill="#111" stroke="#111" stroke-width="0.3" />
<path d="M192.39 268.6 L193.29 271.2 L193.29 275 L191.49 275 L191.49 271.2 Z" fill="#fff" stroke="none" stroke-width="0" />
<path d="M189.09 273.3 l0.9 -1 l0.5 1.5 z M195.69 273.3 l-0.9 -1 l-0.5 1.5 z" fill="#ddd" stroke="none" stroke-width="0" />
<rect x="200.92" y="273.6" width="2.25" height="152.7" fill="#111" stroke="#111" stroke-width="0" />
<rect x="204.97" y="273.6" width="2.25" height="152.7" fill="#111" stroke="#111" stroke-width="0" />
<path d="M204.07 266.7 L208.07 272.7 L207.22 274.4 L200.92 274.4 L200.07 272.7 Z" fill="#111" stroke="#111" stroke-width="0.3" />
<path d="M204.07 268.6 L204.97 271.2 L204.97 275 L203.17 275 L203.17 271.2 Z" fill="#fff" stroke="none" stroke-width="0" />
<path d="M200.77 273.3 l0.9 -1 l0.5 1.5 z M207.37 273.3 l-0.9 -1 l-0.5 1.5 z" fill="#ddd" stroke="none" stroke-width="0" />
<rect x="212.6" y="273.6" width="2.25" height="152.7" fill="#111" stroke="#111" stroke-width="0" />
<rect x="216.65" y="273.6" width="2.25" height="152.7" fill="#111" stroke="#111" stroke-width="0" />
<line x1="216.05" y1="272" x2="216.05" y2="426" stroke="#555" stroke-width="0.5" />
<path d="M215.75 266.7 L219.75 272.7 L218.90 274.4 L212.60 274.4 L211.75 272.7 Z" fill="#111" stroke="#111" stroke-width="0.3" />
<path d="M215.75 268.6 L216.65 271.2 L216.65 275 L214.85 275 L214.85 271.2 Z" fill="#fff" stroke="none" stroke-width="0" />
<path d="M212.45 273.3 l0.9 -1 l0.5 1.5 z M219.05 273.3 l-0.9 -1 l-0.5 1.5 z" fill="#ddd" stroke="none" stroke-width="0" />
<rect x="224.28" y="273.6" width="2.25" height="152.7" fill="#111" stroke="#111" stroke-width="0" />
<rect x="228.33" y="273.6" width="2.25" height="152.7" fill="#111" stroke="#111" stroke-width="0" />
<path d="M227.43 266.7 L231.43 272.7 L230.58 274.4 L224.28 274.4 L223.43 272.7 Z" fill="#111" stroke="#111" stroke-width="0.3" />
<path d="M227.43 268.6 L228.33 271.2 L228.33 275 L226.53 275 L226.53 271.2 Z" fill="#fff" stroke="none" stroke-width="0" />
<path d="M224.13 273.3 l0.9 -1 l0.5 1.5 z M230.73 273.3 l-0.9 -1 l-0.5 1.5 z" fill="#ddd" stroke="none" stroke-width="0" />
<rect x="235.96" y="273.6" width="2.25" height="152.7" fill="#111" stroke="#111" stroke-width="0" />
<rect x="240.01" y="273.6" width="2.25" height="152.7" fill="#111" stroke="#111" stroke-width="0" />
<path d="M239.11 266.7 L243.11 272.7 L242.26 274.4 L235.96 274.4 L235.11 272.7 Z" fill="#111" stroke="#111" stroke-width="0.3" />
<path d="M239.11 268.6 L240.01 271.2 L240.01 275 L238.21 275 L238.21 271.2 Z" fill="#fff" stroke="none" stroke-width="0" />
<path d="M235.81 273.3 l0.9 -1 l0.5 1.5 z M242.41 273.3 l-0.9 -1 l-0.5 1.5 z" fill="#ddd" stroke="none" stroke-width="0" />
<rect x="247.64" y="273.6" width="2.25" height="152.7" fill="#111" stroke="#111" stroke-width="0" />
<rect x="251.69" y="273.6" width="2.25" height="152.7" fill="#111" stroke="#111" stroke-width="0" />
<line x1="251.09" y1="272" x2="251.09" y2="426" stroke="#555" stroke-width="0.5" />
<path d="M250.79 266.7 L254.79 272.7 L253.94 274.4 L247.64 274.4 L246.79 272.7 Z" fill="#111" stroke="#111" stroke-width="0.3" />
<path d="M250.79 268.6 L251.69 271.2 L251.69 275 L249.89 275 L249.89 271.2 Z" fill="#fff" stroke="none" stroke-width="0" />
<path d="M247.49 273.3 l0.9 -1 l0.5 1.5 z M254.09 273.3 l-0.9 -1 l-0.5 1.5 z" fill="#ddd" stroke="none" stroke-width="0" />
<rect x="259.32" y="273.6" width="2.25" height="152.7" fill="#111" stroke="#111" stroke-width="0" />
<rect x="263.37" y="273.6" width="2.25" height="152.7" fill="#111" stroke="#111" stroke-width="0" />
<path d="M262.47 266.7 L266.47 272.7 L265.62 274.4 L259.32 274.4 L258.47 272.7 Z" fill="#111" stroke="#111" stroke-width="0.3" />
<path d="M262.47 268.6 L263.37 271.2 L263.37 275 L261.57 275 L261.57 271.2 Z" fill="#fff" stroke="none" stroke-width="0" />
<path d="M259.17 273.3 l0.9 -1 l0.5 1.5 z M265.77 273.3 l-0.9 -1 l-0.5 1.5 z" fill="#ddd" stroke="none" stroke-width="0" />
<rect x="271.0" y="273.6" width="2.25" height="152.7" fill="#111" stroke="#111" stroke-width="0" />
<rect x="275.05" y="273.6" width="2.25" height="152.7" fill="#111" stroke="#111" stroke-width="0" />
<path d="M274.15 266.7 L278.15 272.7 L277.30 274.4 L271.00 274.4 L270.15 272.7 Z" fill="#111" stroke="#111" stroke-width="0.3" />
<path d="M274.15 268.6 L275.05 271.2 L275.05 275 L273.25 275 L273.25 271.2 Z" fill="#fff" stroke="none" stroke-width="0" />
<path d="M270.85 273.3 l0.9 -1 l0.5 1.5 z M277.45 273.3 l-0.9 -1 l-0.5 1.5 z" fill="#ddd" stroke="none" stroke-width="0" />
<rect x="282.68" y="273.6" width="2.25" height="152.7" fill="#111" stroke="#111" stroke-width="0" />
<rect x="286.73" y="273.6" width="2.25" height="152.7" fill="#111" stroke="#111" stroke-width="0" />
<line x1="286.13" y1="272" x2="286.13" y2="426" stroke="#555" stroke-width="0.5" />
<path d="M285.83 266.7 L289.83 272.7 L288.98 274.4 L282.68 274.4 L281.83 272.7 Z" fill="#111" stroke="#111" stroke-width="0.3" />
<path d="M285.83 268.6 L286.73 271.2 L286.73 275 L284.93 275 L284.93 271.2 Z" fill="#fff" stroke="none" stroke-width="0" />
<path d="M282.53 273.3 l0.9 -1 l0.5 1.5 z M289.13 273.3 l-0.9 -1 l-0.5 1.5 z" fill="#ddd" stroke="none" stroke-width="0" />
<rect x="90.8" y="291.6" width="3.2" height="3.2" fill="#111" stroke="#111" stroke-width="0" />
<rect x="291.6" y="291.6" width="3.2" height="3.2" fill="#111" stroke="#111" stroke-width="0" />
<rect x="90.8" y="410.1" width="3.2" height="3.2" fill="#111" stroke="#111" stroke-width="0" />
<rect x="291.6" y="410.1" width="3.2" height="3.2" fill="#111" stroke="#111" stroke-width="0" />
<line x1="41" y1="267.5" x2="89" y2="267.5" stroke="#111" stroke-width="1.0" />
<line x1="56" y1="426.3" x2="100" y2="426.3" stroke="#111" stroke-width="1.1" />
<line x1="41" y1="472.5" x2="96" y2="472.5" stroke="#111" stroke-width="1.0" />
<line x1="68" y1="293.4" x2="91" y2="293.4" stroke="#111" stroke-width="1.0" />
<line x1="68" y1="411.5" x2="91" y2="411.5" stroke="#111" stroke-width="1.0" />
<line x1="45.6" y1="267.5" x2="45.6" y2="472.5" stroke="#111" stroke-width="1.0" />
<line x1="60.4" y1="267.5" x2="60.4" y2="426.3" stroke="#111" stroke-width="1.0" />
<line x1="73.6" y1="267.5" x2="73.6" y2="472.5" stroke="#111" stroke-width="1.0" />
<g transform="translate(48.6 369.8) rotate(-90)"><rect x="-9.8" y="-7" width="19.6" height="9" fill="#fff"/><text class="t" x="0" y="0" font-size="8.2" text-anchor="middle" textLength="18" lengthAdjust="spacingAndGlyphs">2700</text></g>
<g transform="translate(63.3 347) rotate(-90)"><rect x="-9.8" y="-7" width="19.6" height="9" fill="#fff"/><text class="t" x="0" y="0" font-size="8.2" text-anchor="middle" textLength="18" lengthAdjust="spacingAndGlyphs">2100</text></g>
<g transform="translate(76.0 280.3) rotate(-90)"><rect x="-7.55" y="-7" width="15.1" height="9" fill="#fff"/><text class="t" x="0" y="0" font-size="8.2" text-anchor="middle" textLength="13.5" lengthAdjust="spacingAndGlyphs">350</text></g>
<g transform="translate(76.0 352) rotate(-90)"><rect x="-9.55" y="-7" width="19.1" height="9" fill="#fff"/><text class="t" x="0" y="0" font-size="8.2" text-anchor="middle" textLength="17.5" lengthAdjust="spacingAndGlyphs">1550</text></g>
<g transform="translate(76.0 419) rotate(-90)"><rect x="-7.55" y="-7" width="15.1" height="9" fill="#fff"/><text class="t" x="0" y="0" font-size="8.2" text-anchor="middle" textLength="13.5" lengthAdjust="spacingAndGlyphs">200</text></g>
<g transform="translate(76.0 451) rotate(-90)"><rect x="-7.55" y="-7" width="15.1" height="9" fill="#fff"/><text class="t" x="0" y="0" font-size="8.2" text-anchor="middle" textLength="13.5" lengthAdjust="spacingAndGlyphs">600</text></g>
<line x1="89" y1="253.5" x2="297" y2="253.5" stroke="#111" stroke-width="1.2" />
<rect x="181" y="248.5" width="20" height="9" fill="#fff" stroke="none" stroke-width="0" />
<text class="t" x="182.5" y="256.5" font-size="8.2" textLength="17.5" lengthAdjust="spacingAndGlyphs" >2750</text>
<text class="t" x="86.9" y="227.3" font-size="5.8" >₵</text>
<text class="t" x="295" y="227.3" font-size="5.8" >₵</text>
<polyline points="344.3,247.2 268.8,247.2 268.8,410" fill="none" stroke="#111" stroke-width="1.15" />
<line x1="297" y1="293.6" x2="344.3" y2="293.6" stroke="#111" stroke-width="1.1" />
<line x1="286" y1="342.8" x2="344.3" y2="342.8" stroke="#111" stroke-width="1.1" />
<line x1="297" y1="366.2" x2="344.3" y2="366.2" stroke="#111" stroke-width="1.1" />
<line x1="297" y1="411.3" x2="344.3" y2="411.3" stroke="#111" stroke-width="1.1" />
<polyline points="286.5,413 286.5,450.8 344.3,450.8" fill="none" stroke="#111" stroke-width="1.1" />
<text class="t" x="345.2" y="249.8" font-size="8.2" textLength="114.3" lengthAdjust="spacingAndGlyphs" >Rail size:50x50x5,0mm x 2pcs</text>
<text class="t" x="345.2" y="296.4" font-size="8.2" textLength="96.8" lengthAdjust="spacingAndGlyphs" >Fish plate:140x35x7,0mm</text>
<text class="t" x="345.2" y="345.9" font-size="8.2" textLength="80.2" lengthAdjust="spacingAndGlyphs" >' W ' Pale: 68x2.0mm</text>
<text class="t" x="345.2" y="369" font-size="8.2" textLength="118.2" lengthAdjust="spacingAndGlyphs" >IPE Post: 100x55x3.6x2700mm</text>
<text class="t" x="345.5" y="414.7" font-size="8.2" textLength="124" lengthAdjust="spacingAndGlyphs" >Bolts:M12×40 with shear off nuts</text>
<text class="t" x="345.5" y="453.4" font-size="8.2" textLength="119" lengthAdjust="spacingAndGlyphs" >Bolts:M8×25 with shear off nuts</text>
<text class="t" x="129.7" y="482.4" font-size="8.8" textLength="123" lengthAdjust="spacingAndGlyphs" >FENCING - 2100 H X 2720 W</text>
<line x1="124" y1="486.8" x2="257.5" y2="486.8" stroke="#111" stroke-width="1.1" />
</g>
<g id="sections">
<path d="M529 265 C529 273.5 534 279.9 541.2 279.9 C548 279.9 551.5 275.6 555 271.4 C558.5 267.2 562 263.6 567.7 263.6 C573.4 263.6 577 267.2 580.6 271.4 C584.2 275.6 587.8 279.9 594.8 279.9 C602 279.9 607.5 273.5 607.5 265" fill="none" stroke="#111" stroke-width="2.8" stroke-linecap="butt"/>
<path d="M529 265 C529 273.5 534 279.9 541.2 279.9 C548 279.9 551.5 275.6 555 271.4 C558.5 267.2 562 263.6 567.7 263.6 C573.4 263.6 577 267.2 580.6 271.4 C584.2 275.6 587.8 279.9 594.8 279.9 C602 279.9 607.5 273.5 607.5 265" fill="none" stroke="#fff" stroke-width="1.1" stroke-linecap="square"/>
<text class="t" x="524.8" y="298.2" font-size="9.2" textLength="93" lengthAdjust="spacingAndGlyphs" >W PROFILE SECTION</text>
<line x1="523.9" y1="301.4" x2="618.6" y2="301.4" stroke="#111" stroke-width="0.9" />
<path d="M540.7 377.9h52.2v3.1h-23.8v49.9h23.8v3.1h-52.2v-3.1h24.6v-49.9h-24.6z" fill="#efefef" stroke="#333" stroke-width="0.9" />
<line x1="540.5" y1="364.4" x2="540.5" y2="376.5" stroke="#111" stroke-width="0.8" />
<line x1="592.6" y1="364.4" x2="592.6" y2="376.5" stroke="#111" stroke-width="0.8" />
<line x1="540.5" y1="368.8" x2="592.6" y2="368.8" stroke="#111" stroke-width="0.8" />
<rect x="563.5" y="366.3" width="6" height="4.5" fill="#fff" stroke="none" stroke-width="0" />
<text class="t" x="564" y="370.3" font-size="3.8" style="stroke:none;fill:#555">55</text>
<line x1="594" y1="378.3" x2="615.5" y2="378.3" stroke="#111" stroke-width="0.8" />
<line x1="594" y1="433.6" x2="615.5" y2="433.6" stroke="#111" stroke-width="0.8" />
<line x1="612.4" y1="378.3" x2="612.4" y2="433.6" stroke="#111" stroke-width="0.8" />
<g transform="translate(611.6 406.5) rotate(-90)"><rect x="-4" y="-3.2" width="8" height="4.5" fill="#fff"/><text class="t" x="0" y="0" font-size="3.8" text-anchor="middle" style="stroke:none;fill:#555">100</text></g>
<text class="t" x="525.4" y="454.4" font-size="9.2" textLength="84" lengthAdjust="spacingAndGlyphs" >IPE POST SECTION</text>
<line x1="524.5" y1="457" x2="610.5" y2="457" stroke="#111" stroke-width="0.9" />
</g>
<text class="big" x="151.3" y="484.3" font-size="42.6" textLength="485" lengthAdjust="spacingAndGlyphs">it.security-fencing.com</text>
</svg></body></html>
